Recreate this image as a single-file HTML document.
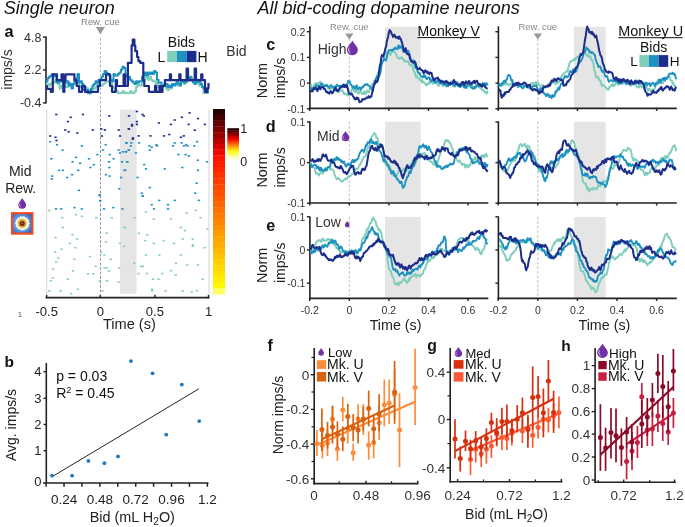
<!DOCTYPE html>
<html><head><meta charset="utf-8"><style>
html,body{margin:0;padding:0;background:#fff;}
body{width:685px;height:527px;overflow:hidden;}
svg{display:block;font-family:"Liberation Sans", sans-serif;will-change:transform;}
</style></head><body>
<svg width="685" height="527" viewBox="0 0 685 527">
<rect width="685" height="527" fill="#fff"/>
<text x="3.8" y="13.6" font-size="18" text-anchor="start" fill="#111" font-weight="normal" font-style="italic" >Single neuron</text>
<text x="257.5" y="13.6" font-size="18" text-anchor="start" fill="#111" font-weight="normal" font-style="italic" >All bid-coding dopamine neurons</text>
<text x="4.6" y="36.9" font-size="16.3" text-anchor="start" fill="#111" font-weight="bold" font-style="normal" >a</text>
<line x1="46" y1="36.5" x2="46" y2="103.5" stroke="#222" stroke-width="1.6" />
<line x1="43" y1="37.1" x2="46" y2="37.1" stroke="#222" stroke-width="1.4" />
<text x="41.5" y="41.5" font-size="12.5" text-anchor="end" fill="#333" font-weight="normal" font-style="normal" >4.8</text>
<line x1="43" y1="69.9" x2="46" y2="69.9" stroke="#222" stroke-width="1.4" />
<text x="41.5" y="74.30000000000001" font-size="12.5" text-anchor="end" fill="#333" font-weight="normal" font-style="normal" >2.2</text>
<line x1="43" y1="102.9" x2="46" y2="102.9" stroke="#222" stroke-width="1.4" />
<text x="41.5" y="107.30000000000001" font-size="12.5" text-anchor="end" fill="#333" font-weight="normal" font-style="normal" >-0.4</text>
<text transform="translate(12,69.5) rotate(-90)" font-size="14" text-anchor="middle" fill="#333">imps/s</text>
<text x="100.4" y="24.8" font-size="9.4" text-anchor="middle" fill="#808080" font-weight="normal" font-style="normal" >Rew. cue</text>
<path d="M95.90,27.00 L104.90,27.00 L100.40,34.40 Z" fill="#999"/>
<line x1="100.5" y1="38" x2="100.5" y2="296" stroke="#999" stroke-width="0.8" stroke-dasharray="2.5,2"/>
<text x="167.8" y="47.4" font-size="14" text-anchor="start" fill="#111" font-weight="normal" font-style="normal" >Bids</text>
<text x="157.6" y="61.9" font-size="14" text-anchor="start" fill="#111" font-weight="normal" font-style="normal" >L</text>
<rect x="167.2" y="50.9" width="9.8" height="11.2" fill="#7fcdbb" />
<rect x="177.0" y="50.9" width="9.8" height="11.2" fill="#1d91c0" />
<rect x="186.8" y="50.9" width="9.6" height="11.2" fill="#1c2d8a" />
<text x="197.6" y="61.9" font-size="14" text-anchor="start" fill="#111" font-weight="normal" font-style="normal" >H</text>
<text x="226.3" y="56.4" font-size="14" text-anchor="start" fill="#333" font-weight="normal" font-style="normal" >Bid</text>
<polyline points="46.0,84.1 47.5,84.1 47.5,84.1 49.0,84.1 49.0,85.5 50.5,85.5 50.5,84.1 52.0,84.1 52.0,82.6 53.5,82.6 53.5,82.6 55.0,82.6 55.0,79.8 56.5,79.8 56.5,81.2 58.0,81.2 58.0,84.1 59.5,84.1 59.5,88.5 61.0,88.5 61.0,85.5 62.5,85.5 62.5,85.5 64.0,85.5 64.0,84.1 65.5,84.1 65.5,87.0 67.0,87.0 67.0,87.0 68.5,87.0 68.5,82.6 70.0,82.6 70.0,85.5 71.5,85.5 71.5,85.5 73.0,85.5 73.0,84.1 74.5,84.1 74.5,82.6 76.0,82.6 76.0,81.2 77.5,81.2 77.5,82.6 79.0,82.6 79.0,85.5 80.5,85.5 80.5,87.0 82.0,87.0 82.0,88.5 83.5,88.5 83.5,88.5 85.0,88.5 85.0,87.0 86.5,87.0 86.5,88.5 88.0,88.5 88.0,89.9 89.5,89.9 89.5,91.3 91.0,91.3 91.0,89.9 92.5,89.9 92.5,88.5 94.0,88.5 94.0,88.5 95.5,88.5 95.5,87.0 97.0,87.0 97.0,84.1 98.5,84.1 98.5,82.6 100.0,82.6 100.0,85.5 101.5,85.5 101.5,85.5 103.0,85.5 103.0,84.1 104.5,84.1 104.5,82.6 106.0,82.6 106.0,81.2 107.5,81.2 107.5,81.2 109.0,81.2 109.0,82.6 110.5,82.6 110.5,81.2 112.0,81.2 112.0,87.0 113.5,87.0 113.5,88.5 115.0,88.5 115.0,91.3 116.5,91.3 116.5,91.3 118.0,91.3 118.0,93.2 119.5,93.2 119.5,93.2 121.0,93.2 121.0,92.8 122.5,92.8 122.5,91.3 124.0,91.3 124.0,93.2 125.5,93.2 125.5,92.8 127.0,92.8 127.0,93.2 128.5,93.2 128.5,93.2 130.0,93.2 130.0,91.3 131.5,91.3 131.5,92.8 133.0,92.8 133.0,93.2 134.5,93.2 134.5,91.3 136.0,91.3 136.0,87.0 137.5,87.0 137.5,84.1 139.0,84.1 139.0,85.5 140.5,85.5 140.5,85.5 142.0,85.5 142.0,81.2 143.5,81.2 143.5,79.8 145.0,79.8 145.0,78.3 146.5,78.3 146.5,76.8 148.0,76.8 148.0,79.8 149.5,79.8 149.5,76.8 151.0,76.8 151.0,79.8 152.5,79.8 152.5,81.2 154.0,81.2 154.0,81.2 155.5,81.2 155.5,84.1 157.0,84.1 157.0,82.6 158.5,82.6 158.5,87.0 160.0,87.0 160.0,87.0 161.5,87.0 161.5,87.0 163.0,87.0 163.0,85.5 164.5,85.5 164.5,85.5 166.0,85.5 166.0,88.5 167.5,88.5 167.5,89.9 169.0,89.9 169.0,87.0 170.5,87.0 170.5,88.5 172.0,88.5 172.0,84.1 173.5,84.1 173.5,84.1 175.0,84.1 175.0,85.5 176.5,85.5 176.5,85.5 178.0,85.5 178.0,82.6 179.5,82.6 179.5,85.5 181.0,85.5 181.0,82.6 182.5,82.6 182.5,81.2 184.0,81.2 184.0,84.1 185.5,84.1 185.5,82.6 187.0,82.6 187.0,81.2 188.5,81.2 188.5,78.3 190.0,78.3 190.0,78.3 191.5,78.3 191.5,81.2 193.0,81.2 193.0,79.8 194.5,79.8 194.5,81.2 196.0,81.2 196.0,81.2 197.5,81.2 197.5,82.6 199.0,82.6 199.0,85.5 200.5,85.5 200.5,85.5 202.0,85.5 202.0,87.0 203.5,87.0 203.5,93.2 205.0,93.2 205.0,92.8 206.5,92.8 206.5,89.9 208.0,89.9 208.0,91.3" fill="none" stroke="#7fcdbb" stroke-width="2.0" stroke-linejoin="round" stroke-linejoin="miter"/>
<polyline points="46.0,81.2 47.5,81.2 47.5,78.3 49.0,78.3 49.0,76.8 50.5,76.8 50.5,75.4 52.0,75.4 52.0,74.0 53.5,74.0 53.5,75.4 55.0,75.4 55.0,76.8 56.5,76.8 56.5,82.6 58.0,82.6 58.0,82.6 59.5,82.6 59.5,81.2 61.0,81.2 61.0,81.2 62.5,81.2 62.5,82.6 64.0,82.6 64.0,81.2 65.5,81.2 65.5,82.6 67.0,82.6 67.0,81.2 68.5,81.2 68.5,85.5 70.0,85.5 70.0,84.1 71.5,84.1 71.5,88.5 73.0,88.5 73.0,84.1 74.5,84.1 74.5,81.2 76.0,81.2 76.0,78.3 77.5,78.3 77.5,74.0 79.0,74.0 79.0,82.6 80.5,82.6 80.5,81.2 82.0,81.2 82.0,84.1 83.5,84.1 83.5,89.9 85.0,89.9 85.0,91.3 86.5,91.3 86.5,89.9 88.0,89.9 88.0,93.2 89.5,93.2 89.5,93.2 91.0,93.2 91.0,88.5 92.5,88.5 92.5,85.5 94.0,85.5 94.0,84.1 95.5,84.1 95.5,81.2 97.0,81.2 97.0,82.6 98.5,82.6 98.5,79.8 100.0,79.8 100.0,79.8 101.5,79.8 101.5,76.8 103.0,76.8 103.0,74.0 104.5,74.0 104.5,71.0 106.0,71.0 106.0,72.5 107.5,72.5 107.5,74.0 109.0,74.0 109.0,75.4 110.5,75.4 110.5,79.8 112.0,79.8 112.0,81.2 113.5,81.2 113.5,74.0 115.0,74.0 115.0,75.4 116.5,75.4 116.5,75.4 118.0,75.4 118.0,74.0 119.5,74.0 119.5,72.5 121.0,72.5 121.0,69.6 122.5,69.6 122.5,66.7 124.0,66.7 124.0,68.1 125.5,68.1 125.5,75.4 127.0,75.4 127.0,76.8 128.5,76.8 128.5,76.8 130.0,76.8 130.0,79.8 131.5,79.8 131.5,81.2 133.0,81.2 133.0,82.6 134.5,82.6 134.5,84.1 136.0,84.1 136.0,81.2 137.5,81.2 137.5,82.6 139.0,82.6 139.0,81.2 140.5,81.2 140.5,81.2 142.0,81.2 142.0,76.8 143.5,76.8 143.5,75.4 145.0,75.4 145.0,72.5 146.5,72.5 146.5,75.4 148.0,75.4 148.0,72.5 149.5,72.5 149.5,74.0 151.0,74.0 151.0,72.5 152.5,72.5 152.5,74.0 154.0,74.0 154.0,71.0 155.5,71.0 155.5,72.5 157.0,72.5 157.0,79.8 158.5,79.8 158.5,82.6 160.0,82.6 160.0,82.6 161.5,82.6 161.5,85.5 163.0,85.5 163.0,85.5 164.5,85.5 164.5,84.1 166.0,84.1 166.0,84.1 167.5,84.1 167.5,87.0 169.0,87.0 169.0,85.5 170.5,85.5 170.5,87.0 172.0,87.0 172.0,84.1 173.5,84.1 173.5,85.5 175.0,85.5 175.0,84.1 176.5,84.1 176.5,81.2 178.0,81.2 178.0,84.1 179.5,84.1 179.5,85.5 181.0,85.5 181.0,81.2 182.5,81.2 182.5,81.2 184.0,81.2 184.0,82.6 185.5,82.6 185.5,81.2 187.0,81.2 187.0,79.8 188.5,79.8 188.5,78.3 190.0,78.3 190.0,76.8 191.5,76.8 191.5,79.8 193.0,79.8 193.0,82.6 194.5,82.6 194.5,84.1 196.0,84.1 196.0,82.6 197.5,82.6 197.5,79.8 199.0,79.8 199.0,81.2 200.5,81.2 200.5,84.1 202.0,84.1 202.0,87.0 203.5,87.0 203.5,88.5 205.0,88.5 205.0,89.9 206.5,89.9 206.5,92.8 208.0,92.8 208.0,88.5" fill="none" stroke="#1d91c0" stroke-width="2.0" stroke-linejoin="round" stroke-linejoin="miter"/>
<polyline points="45.8,86.0 47.0,86.0 47.0,88.9 50.8,88.9 50.8,91.8 52.8,91.8 52.8,74.4 55.7,74.4 55.7,74.4 57.0,74.4 57.0,80.2 60.4,80.2 60.4,80.2 61.5,80.2 61.5,74.4 63.3,74.4 63.3,91.8 64.4,91.8 64.4,80.2 65.5,80.2 65.5,74.4 72.6,74.4 72.6,74.4 74.4,74.4 74.4,80.2 76.7,80.2 76.7,86.0 79.0,86.0 79.0,91.8 82.0,91.8 82.0,86.0 83.7,86.0 83.7,86.0 85.0,86.0 85.0,91.8 96.6,91.8 96.6,91.8 98.0,91.8 98.0,86.0 100.0,86.0 100.0,80.2 103.6,80.2 103.6,80.2 106.0,80.2 106.0,74.4 107.0,74.4 107.0,74.4 110.0,74.4 110.0,86.0 112.0,86.0 112.0,91.8 114.0,91.8 114.0,91.8 115.8,91.8 115.8,80.2 117.0,80.2 117.0,86.0 123.6,86.0 123.6,74.4 125.2,74.4 125.2,86.0 127.9,86.0 127.9,62.8 131.6,62.8 131.6,45.4 132.8,45.4 132.8,39.6 134.4,39.6 134.4,45.4 135.3,45.4 135.3,51.2 137.1,51.2 137.1,57.0 138.4,57.0 138.4,61.1 140.2,61.1 140.2,62.8 143.3,62.8 143.3,80.2 144.3,80.2 144.3,86.0 148.9,86.0 148.9,91.8 155.0,91.8 155.0,86.0 156.3,86.0 156.3,91.8 159.5,91.8 159.5,86.0 160.8,86.0 160.8,91.8 162.5,91.8 162.5,86.0 164.9,86.0 164.9,80.2 168.4,80.2 168.4,80.2 169.9,80.2 169.9,74.4 171.0,74.4 171.0,80.2 177.2,80.2 177.2,80.2 179.3,80.2 179.3,74.4 180.5,74.4 180.5,80.2 183.7,80.2 183.7,80.2 186.6,80.2 186.6,68.6 188.0,68.6 188.0,80.2 192.5,80.2 192.5,80.2 194.7,80.2 194.7,68.6 196.0,68.6 196.0,80.2 199.8,80.2 199.8,80.2 201.2,80.2 201.2,74.4 202.4,74.4 202.4,80.2 203.4,80.2 203.4,80.2 205.0,80.2 205.0,91.8 207.0,91.8 207.0,88.3 208.5,88.3 208.5,83.1" fill="none" stroke="#1c2d8a" stroke-width="2.2" stroke-linejoin="round" stroke-linejoin="miter"/>
<rect x="120" y="109.6" width="16.6" height="184.1" fill="#e5e5e5" />
<line x1="46.6" y1="109.5" x2="46.6" y2="293.8" stroke="#dcdcdc" stroke-width="1.2" />
<line x1="209" y1="109.5" x2="209" y2="293.8" stroke="#dcdcdc" stroke-width="1.2" />
<line x1="100.5" y1="109.6" x2="100.5" y2="294" stroke="#888" stroke-width="0.8" stroke-dasharray="2.5,2"/>
<rect x="48.15" y="209.7" width="2.3" height="1.6" fill="#86cfbd" />
<rect x="74.85" y="213.9" width="2.3" height="1.6" fill="#86cfbd" />
<rect x="80.65" y="215.5" width="2.3" height="1.6" fill="#86cfbd" />
<rect x="61.25" y="216.9" width="2.3" height="1.6" fill="#86cfbd" />
<rect x="95.15" y="216.9" width="2.3" height="1.6" fill="#86cfbd" />
<rect x="110.65" y="216.9" width="2.3" height="1.6" fill="#86cfbd" />
<rect x="61.65" y="226.7" width="2.3" height="1.6" fill="#86cfbd" />
<rect x="123.25" y="226.7" width="2.3" height="1.6" fill="#86cfbd" />
<rect x="105.45" y="232.3" width="2.3" height="1.6" fill="#86cfbd" />
<rect x="71.35" y="233.9" width="2.3" height="1.6" fill="#86cfbd" />
<rect x="54.45" y="236.8" width="2.3" height="1.6" fill="#86cfbd" />
<rect x="75.85" y="238.3" width="2.3" height="1.6" fill="#86cfbd" />
<rect x="104.85" y="241.1" width="2.3" height="1.6" fill="#86cfbd" />
<rect x="68.65" y="242.6" width="2.3" height="1.6" fill="#86cfbd" />
<rect x="118.75" y="242.6" width="2.3" height="1.6" fill="#86cfbd" />
<rect x="122.85" y="245.5" width="2.3" height="1.6" fill="#86cfbd" />
<rect x="74.25" y="246.9" width="2.3" height="1.6" fill="#86cfbd" />
<rect x="60.35" y="248.4" width="2.3" height="1.6" fill="#86cfbd" />
<rect x="53.95" y="251.3" width="2.3" height="1.6" fill="#86cfbd" />
<rect x="99.95" y="251.3" width="2.3" height="1.6" fill="#86cfbd" />
<rect x="103.25" y="254.2" width="2.3" height="1.6" fill="#86cfbd" />
<rect x="88.75" y="255.8" width="2.3" height="1.6" fill="#86cfbd" />
<rect x="57.05" y="257.1" width="2.3" height="1.6" fill="#86cfbd" />
<rect x="73.25" y="258.5" width="2.3" height="1.6" fill="#86cfbd" />
<rect x="109.65" y="258.5" width="2.3" height="1.6" fill="#86cfbd" />
<rect x="55.05" y="261.4" width="2.3" height="1.6" fill="#86cfbd" />
<rect x="94.55" y="265.4" width="2.3" height="1.6" fill="#86cfbd" />
<rect x="103.45" y="267.2" width="2.3" height="1.6" fill="#86cfbd" />
<rect x="105.45" y="267.2" width="2.3" height="1.6" fill="#86cfbd" />
<rect x="118.05" y="267.2" width="2.3" height="1.6" fill="#86cfbd" />
<rect x="51.95" y="268.4" width="2.3" height="1.6" fill="#86cfbd" />
<rect x="71.95" y="270.1" width="2.3" height="1.6" fill="#86cfbd" />
<rect x="107.75" y="270.1" width="2.3" height="1.6" fill="#86cfbd" />
<rect x="86.85" y="273.0" width="2.3" height="1.6" fill="#86cfbd" />
<rect x="92.25" y="273.0" width="2.3" height="1.6" fill="#86cfbd" />
<rect x="51.55" y="277.1" width="2.3" height="1.6" fill="#86cfbd" />
<rect x="66.65" y="278.4" width="2.3" height="1.6" fill="#86cfbd" />
<rect x="49.65" y="280.0" width="2.3" height="1.6" fill="#86cfbd" />
<rect x="98.65" y="280.0" width="2.3" height="1.6" fill="#86cfbd" />
<rect x="105.85" y="280.0" width="2.3" height="1.6" fill="#86cfbd" />
<rect x="117.45" y="281.3" width="2.3" height="1.6" fill="#86cfbd" />
<rect x="76.75" y="288.5" width="2.3" height="1.6" fill="#86cfbd" />
<rect x="48.15" y="290.0" width="2.3" height="1.6" fill="#86cfbd" />
<rect x="59.35" y="290.0" width="2.3" height="1.6" fill="#86cfbd" />
<rect x="101.35" y="290.0" width="2.3" height="1.6" fill="#86cfbd" />
<rect x="69.95" y="292.9" width="2.3" height="1.6" fill="#86cfbd" />
<rect x="144.75" y="211.0" width="2.3" height="1.6" fill="#86cfbd" />
<rect x="185.45" y="212.4" width="2.3" height="1.6" fill="#86cfbd" />
<rect x="194.55" y="209.5" width="2.3" height="1.6" fill="#86cfbd" />
<rect x="133.55" y="216.9" width="2.3" height="1.6" fill="#86cfbd" />
<rect x="152.55" y="218.2" width="2.3" height="1.6" fill="#86cfbd" />
<rect x="169.75" y="218.2" width="2.3" height="1.6" fill="#86cfbd" />
<rect x="199.35" y="216.9" width="2.3" height="1.6" fill="#86cfbd" />
<rect x="179.65" y="226.7" width="2.3" height="1.6" fill="#86cfbd" />
<rect x="183.85" y="229.8" width="2.3" height="1.6" fill="#86cfbd" />
<rect x="206.15" y="228.3" width="2.3" height="1.6" fill="#86cfbd" />
<rect x="123.85" y="226.7" width="2.3" height="1.6" fill="#86cfbd" />
<rect x="137.75" y="232.5" width="2.3" height="1.6" fill="#86cfbd" />
<rect x="146.15" y="234.1" width="2.3" height="1.6" fill="#86cfbd" />
<rect x="144.15" y="239.9" width="2.3" height="1.6" fill="#86cfbd" />
<rect x="162.55" y="239.9" width="2.3" height="1.6" fill="#86cfbd" />
<rect x="152.65" y="242.6" width="2.3" height="1.6" fill="#86cfbd" />
<rect x="172.85" y="242.6" width="2.3" height="1.6" fill="#86cfbd" />
<rect x="181.55" y="238.3" width="2.3" height="1.6" fill="#86cfbd" />
<rect x="191.65" y="238.3" width="2.3" height="1.6" fill="#86cfbd" />
<rect x="191.65" y="244.2" width="2.3" height="1.6" fill="#86cfbd" />
<rect x="191.65" y="245.5" width="2.3" height="1.6" fill="#86cfbd" />
<rect x="203.45" y="246.9" width="2.3" height="1.6" fill="#86cfbd" />
<rect x="144.75" y="254.2" width="2.3" height="1.6" fill="#86cfbd" />
<rect x="158.15" y="254.2" width="2.3" height="1.6" fill="#86cfbd" />
<rect x="179.65" y="254.2" width="2.3" height="1.6" fill="#86cfbd" />
<rect x="133.15" y="262.5" width="2.3" height="1.6" fill="#86cfbd" />
<rect x="139.75" y="265.6" width="2.3" height="1.6" fill="#86cfbd" />
<rect x="141.65" y="265.6" width="2.3" height="1.6" fill="#86cfbd" />
<rect x="174.75" y="262.5" width="2.3" height="1.6" fill="#86cfbd" />
<rect x="186.15" y="264.1" width="2.3" height="1.6" fill="#86cfbd" />
<rect x="196.85" y="264.1" width="2.3" height="1.6" fill="#86cfbd" />
<rect x="137.45" y="272.8" width="2.3" height="1.6" fill="#86cfbd" />
<rect x="145.75" y="272.8" width="2.3" height="1.6" fill="#86cfbd" />
<rect x="161.25" y="272.8" width="2.3" height="1.6" fill="#86cfbd" />
<rect x="169.95" y="269.9" width="2.3" height="1.6" fill="#86cfbd" />
<rect x="174.55" y="274.2" width="2.3" height="1.6" fill="#86cfbd" />
<rect x="151.95" y="278.4" width="2.3" height="1.6" fill="#86cfbd" />
<rect x="157.35" y="278.4" width="2.3" height="1.6" fill="#86cfbd" />
<rect x="201.45" y="278.4" width="2.3" height="1.6" fill="#86cfbd" />
<rect x="150.95" y="288.5" width="2.3" height="1.6" fill="#86cfbd" />
<rect x="150.95" y="290.0" width="2.3" height="1.6" fill="#86cfbd" />
<rect x="164.55" y="290.0" width="2.3" height="1.6" fill="#86cfbd" />
<rect x="181.55" y="290.0" width="2.3" height="1.6" fill="#86cfbd" />
<rect x="190.65" y="291.4" width="2.3" height="1.6" fill="#86cfbd" />
<rect x="195.85" y="290.0" width="2.3" height="1.6" fill="#86cfbd" />
<rect x="49.05" y="140.9" width="2.3" height="1.6" fill="#1d91c0" />
<rect x="55.85" y="143.9" width="2.3" height="1.6" fill="#1d91c0" />
<rect x="80.65" y="145.1" width="2.3" height="1.6" fill="#1d91c0" />
<rect x="104.55" y="143.9" width="2.3" height="1.6" fill="#1d91c0" />
<rect x="125.05" y="142.1" width="2.3" height="1.6" fill="#1d91c0" />
<rect x="61.45" y="149.3" width="2.3" height="1.6" fill="#1d91c0" />
<rect x="101.85" y="149.3" width="2.3" height="1.6" fill="#1d91c0" />
<rect x="117.55" y="149.3" width="2.3" height="1.6" fill="#1d91c0" />
<rect x="118.85" y="152.2" width="2.3" height="1.6" fill="#1d91c0" />
<rect x="121.85" y="151.0" width="2.3" height="1.6" fill="#1d91c0" />
<rect x="124.65" y="151.0" width="2.3" height="1.6" fill="#1d91c0" />
<rect x="127.85" y="149.3" width="2.3" height="1.6" fill="#1d91c0" />
<rect x="96.25" y="153.8" width="2.3" height="1.6" fill="#1d91c0" />
<rect x="108.65" y="153.8" width="2.3" height="1.6" fill="#1d91c0" />
<rect x="50.15" y="158.0" width="2.3" height="1.6" fill="#1d91c0" />
<rect x="74.75" y="156.6" width="2.3" height="1.6" fill="#1d91c0" />
<rect x="87.85" y="158.0" width="2.3" height="1.6" fill="#1d91c0" />
<rect x="112.45" y="158.0" width="2.3" height="1.6" fill="#1d91c0" />
<rect x="71.45" y="161.0" width="2.3" height="1.6" fill="#1d91c0" />
<rect x="78.95" y="162.4" width="2.3" height="1.6" fill="#1d91c0" />
<rect x="92.75" y="163.9" width="2.3" height="1.6" fill="#1d91c0" />
<rect x="107.75" y="161.0" width="2.3" height="1.6" fill="#1d91c0" />
<rect x="120.85" y="161.0" width="2.3" height="1.6" fill="#1d91c0" />
<rect x="126.05" y="161.0" width="2.3" height="1.6" fill="#1d91c0" />
<rect x="89.25" y="166.7" width="2.3" height="1.6" fill="#1d91c0" />
<rect x="108.25" y="166.7" width="2.3" height="1.6" fill="#1d91c0" />
<rect x="57.85" y="169.5" width="2.3" height="1.6" fill="#1d91c0" />
<rect x="61.65" y="169.5" width="2.3" height="1.6" fill="#1d91c0" />
<rect x="77.05" y="169.5" width="2.3" height="1.6" fill="#1d91c0" />
<rect x="123.25" y="169.5" width="2.3" height="1.6" fill="#1d91c0" />
<rect x="70.95" y="173.9" width="2.3" height="1.6" fill="#1d91c0" />
<rect x="104.75" y="173.9" width="2.3" height="1.6" fill="#1d91c0" />
<rect x="51.15" y="175.3" width="2.3" height="1.6" fill="#1d91c0" />
<rect x="66.05" y="176.7" width="2.3" height="1.6" fill="#1d91c0" />
<rect x="108.45" y="175.3" width="2.3" height="1.6" fill="#1d91c0" />
<rect x="119.95" y="176.7" width="2.3" height="1.6" fill="#1d91c0" />
<rect x="50.65" y="178.1" width="2.3" height="1.6" fill="#1d91c0" />
<rect x="77.75" y="189.6" width="2.3" height="1.6" fill="#1d91c0" />
<rect x="118.05" y="188.0" width="2.3" height="1.6" fill="#1d91c0" />
<rect x="98.45" y="194.0" width="2.3" height="1.6" fill="#1d91c0" />
<rect x="125.55" y="142.1" width="2.3" height="1.6" fill="#1d91c0" />
<rect x="130.15" y="142.1" width="2.3" height="1.6" fill="#1d91c0" />
<rect x="137.85" y="142.1" width="2.3" height="1.6" fill="#1d91c0" />
<rect x="129.65" y="145.1" width="2.3" height="1.6" fill="#1d91c0" />
<rect x="148.25" y="145.1" width="2.3" height="1.6" fill="#1d91c0" />
<rect x="150.55" y="146.5" width="2.3" height="1.6" fill="#1d91c0" />
<rect x="155.25" y="143.9" width="2.3" height="1.6" fill="#1d91c0" />
<rect x="155.85" y="145.1" width="2.3" height="1.6" fill="#1d91c0" />
<rect x="171.85" y="145.1" width="2.3" height="1.6" fill="#1d91c0" />
<rect x="173.55" y="142.1" width="2.3" height="1.6" fill="#1d91c0" />
<rect x="180.55" y="142.1" width="2.3" height="1.6" fill="#1d91c0" />
<rect x="182.85" y="145.1" width="2.3" height="1.6" fill="#1d91c0" />
<rect x="184.95" y="143.9" width="2.3" height="1.6" fill="#1d91c0" />
<rect x="186.35" y="145.1" width="2.3" height="1.6" fill="#1d91c0" />
<rect x="193.15" y="145.1" width="2.3" height="1.6" fill="#1d91c0" />
<rect x="195.95" y="140.9" width="2.3" height="1.6" fill="#1d91c0" />
<rect x="125.05" y="150.8" width="2.3" height="1.6" fill="#1d91c0" />
<rect x="127.55" y="149.4" width="2.3" height="1.6" fill="#1d91c0" />
<rect x="134.65" y="152.2" width="2.3" height="1.6" fill="#1d91c0" />
<rect x="148.65" y="149.4" width="2.3" height="1.6" fill="#1d91c0" />
<rect x="177.25" y="153.8" width="2.3" height="1.6" fill="#1d91c0" />
<rect x="184.45" y="153.8" width="2.3" height="1.6" fill="#1d91c0" />
<rect x="187.75" y="155.2" width="2.3" height="1.6" fill="#1d91c0" />
<rect x="126.15" y="161.0" width="2.3" height="1.6" fill="#1d91c0" />
<rect x="196.65" y="159.4" width="2.3" height="1.6" fill="#1d91c0" />
<rect x="205.85" y="161.0" width="2.3" height="1.6" fill="#1d91c0" />
<rect x="143.05" y="163.8" width="2.3" height="1.6" fill="#1d91c0" />
<rect x="144.85" y="168.1" width="2.3" height="1.6" fill="#1d91c0" />
<rect x="163.65" y="168.1" width="2.3" height="1.6" fill="#1d91c0" />
<rect x="181.15" y="166.7" width="2.3" height="1.6" fill="#1d91c0" />
<rect x="196.85" y="169.5" width="2.3" height="1.6" fill="#1d91c0" />
<rect x="124.15" y="169.5" width="2.3" height="1.6" fill="#1d91c0" />
<rect x="136.45" y="176.7" width="2.3" height="1.6" fill="#1d91c0" />
<rect x="195.45" y="182.4" width="2.3" height="1.6" fill="#1d91c0" />
<rect x="148.65" y="186.8" width="2.3" height="1.6" fill="#1d91c0" />
<rect x="140.75" y="192.4" width="2.3" height="1.6" fill="#1d91c0" />
<rect x="194.05" y="192.4" width="2.3" height="1.6" fill="#1d91c0" />
<rect x="141.65" y="195.3" width="2.3" height="1.6" fill="#1d91c0" />
<rect x="54.85" y="208.1" width="2.3" height="1.6" fill="#1d91c0" />
<rect x="59.95" y="208.1" width="2.3" height="1.6" fill="#1d91c0" />
<rect x="73.25" y="206.8" width="2.3" height="1.6" fill="#1d91c0" />
<rect x="80.65" y="208.1" width="2.3" height="1.6" fill="#1d91c0" />
<rect x="102.85" y="208.1" width="2.3" height="1.6" fill="#1d91c0" />
<rect x="112.15" y="206.8" width="2.3" height="1.6" fill="#1d91c0" />
<rect x="121.25" y="208.1" width="2.3" height="1.6" fill="#1d91c0" />
<rect x="99.05" y="200.0" width="2.3" height="1.6" fill="#1d91c0" />
<rect x="98.65" y="194.8" width="2.3" height="1.6" fill="#1d91c0" />
<rect x="141.65" y="195.2" width="2.3" height="1.6" fill="#1d91c0" />
<rect x="158.15" y="199.6" width="2.3" height="1.6" fill="#1d91c0" />
<rect x="173.65" y="199.6" width="2.3" height="1.6" fill="#1d91c0" />
<rect x="197.65" y="199.6" width="2.3" height="1.6" fill="#1d91c0" />
<rect x="150.55" y="203.9" width="2.3" height="1.6" fill="#1d91c0" />
<rect x="166.85" y="203.9" width="2.3" height="1.6" fill="#1d91c0" />
<rect x="152.85" y="208.1" width="2.3" height="1.6" fill="#1d91c0" />
<rect x="166.85" y="208.1" width="2.3" height="1.6" fill="#1d91c0" />
<rect x="55.15" y="113.7" width="2.3" height="1.6" fill="#1c2d8a" />
<rect x="69.55" y="116.5" width="2.3" height="1.6" fill="#1c2d8a" />
<rect x="81.75" y="113.7" width="2.3" height="1.6" fill="#1c2d8a" />
<rect x="108.05" y="115.1" width="2.3" height="1.6" fill="#1c2d8a" />
<rect x="127.85" y="115.1" width="2.3" height="1.6" fill="#1c2d8a" />
<rect x="66.75" y="120.8" width="2.3" height="1.6" fill="#1c2d8a" />
<rect x="64.05" y="129.2" width="2.3" height="1.6" fill="#1c2d8a" />
<rect x="67.55" y="130.9" width="2.3" height="1.6" fill="#1c2d8a" />
<rect x="76.15" y="132.2" width="2.3" height="1.6" fill="#1c2d8a" />
<rect x="91.65" y="129.2" width="2.3" height="1.6" fill="#1c2d8a" />
<rect x="100.25" y="128.1" width="2.3" height="1.6" fill="#1c2d8a" />
<rect x="103.75" y="129.2" width="2.3" height="1.6" fill="#1c2d8a" />
<rect x="117.55" y="129.2" width="2.3" height="1.6" fill="#1c2d8a" />
<rect x="127.85" y="128.1" width="2.3" height="1.6" fill="#1c2d8a" />
<rect x="49.05" y="135.2" width="2.3" height="1.6" fill="#1c2d8a" />
<rect x="54.35" y="136.5" width="2.3" height="1.6" fill="#1c2d8a" />
<rect x="55.35" y="139.7" width="2.3" height="1.6" fill="#1c2d8a" />
<rect x="100.75" y="135.2" width="2.3" height="1.6" fill="#1c2d8a" />
<rect x="118.85" y="135.2" width="2.3" height="1.6" fill="#1c2d8a" />
<rect x="135.75" y="110.7" width="2.3" height="1.6" fill="#1c2d8a" />
<rect x="141.35" y="113.7" width="2.3" height="1.6" fill="#1c2d8a" />
<rect x="142.75" y="115.1" width="2.3" height="1.6" fill="#1c2d8a" />
<rect x="188.45" y="112.1" width="2.3" height="1.6" fill="#1c2d8a" />
<rect x="180.75" y="116.5" width="2.3" height="1.6" fill="#1c2d8a" />
<rect x="196.85" y="117.8" width="2.3" height="1.6" fill="#1c2d8a" />
<rect x="173.55" y="119.2" width="2.3" height="1.6" fill="#1c2d8a" />
<rect x="135.75" y="120.8" width="2.3" height="1.6" fill="#1c2d8a" />
<rect x="130.85" y="123.8" width="2.3" height="1.6" fill="#1c2d8a" />
<rect x="130.85" y="125.2" width="2.3" height="1.6" fill="#1c2d8a" />
<rect x="135.75" y="123.6" width="2.3" height="1.6" fill="#1c2d8a" />
<rect x="157.75" y="122.2" width="2.3" height="1.6" fill="#1c2d8a" />
<rect x="169.75" y="123.6" width="2.3" height="1.6" fill="#1c2d8a" />
<rect x="187.55" y="123.6" width="2.3" height="1.6" fill="#1c2d8a" />
<rect x="203.65" y="123.6" width="2.3" height="1.6" fill="#1c2d8a" />
<rect x="127.65" y="128.0" width="2.3" height="1.6" fill="#1c2d8a" />
<rect x="193.65" y="129.4" width="2.3" height="1.6" fill="#1c2d8a" />
<rect x="131.85" y="137.2" width="2.3" height="1.6" fill="#1c2d8a" />
<rect x="131.55" y="138.3" width="2.3" height="1.6" fill="#1c2d8a" />
<rect x="137.45" y="135.1" width="2.3" height="1.6" fill="#1c2d8a" />
<rect x="149.35" y="135.1" width="2.3" height="1.6" fill="#1c2d8a" />
<rect x="162.75" y="135.1" width="2.3" height="1.6" fill="#1c2d8a" />
<rect x="168.15" y="133.7" width="2.3" height="1.6" fill="#1c2d8a" />
<rect x="179.85" y="136.5" width="2.3" height="1.6" fill="#1c2d8a" />
<rect x="182.65" y="135.1" width="2.3" height="1.6" fill="#1c2d8a" />
<line x1="45.5" y1="297.6" x2="209.5" y2="297.6" stroke="#222" stroke-width="1.8" />
<line x1="46.7" y1="297.6" x2="46.7" y2="294.8" stroke="#222" stroke-width="1.4" />
<text x="46.7" y="316" font-size="13" text-anchor="middle" fill="#222" font-weight="normal" font-style="normal" >-0.5</text>
<line x1="100.3" y1="297.6" x2="100.3" y2="294.8" stroke="#222" stroke-width="1.4" />
<text x="100.3" y="316" font-size="13" text-anchor="middle" fill="#222" font-weight="normal" font-style="normal" >0</text>
<line x1="154.9" y1="297.6" x2="154.9" y2="294.8" stroke="#222" stroke-width="1.4" />
<text x="154.9" y="316" font-size="13" text-anchor="middle" fill="#222" font-weight="normal" font-style="normal" >0.5</text>
<line x1="208.5" y1="297.6" x2="208.5" y2="294.8" stroke="#222" stroke-width="1.4" />
<text x="208.5" y="316" font-size="13" text-anchor="middle" fill="#222" font-weight="normal" font-style="normal" >1</text>
<text x="129.4" y="329.3" font-size="14.6" text-anchor="middle" fill="#222" font-weight="normal" font-style="normal" >Time (s)</text>
<text x="20" y="316.5" font-size="8" text-anchor="middle" fill="#555" font-weight="normal" font-style="normal" >1</text>
<rect x="213" y="109.0" width="12" height="6.09" fill="#270000" />
<rect x="213" y="114.79" width="12" height="6.09" fill="#440000" />
<rect x="213" y="120.58" width="12" height="6.09" fill="#600000" />
<rect x="213" y="126.36" width="12" height="6.09" fill="#7d0000" />
<rect x="213" y="132.15" width="12" height="6.09" fill="#990000" />
<rect x="213" y="137.94" width="12" height="6.09" fill="#b60000" />
<rect x="213" y="143.72" width="12" height="6.09" fill="#d20000" />
<rect x="213" y="149.51" width="12" height="6.09" fill="#ee0800" />
<rect x="213" y="155.3" width="12" height="6.09" fill="#ff1200" />
<rect x="213" y="161.09" width="12" height="6.09" fill="#ff1d00" />
<rect x="213" y="166.88" width="12" height="6.09" fill="#ff2700" />
<rect x="213" y="172.66" width="12" height="6.09" fill="#ff3200" />
<rect x="213" y="178.45" width="12" height="6.09" fill="#ff3c00" />
<rect x="213" y="184.24" width="12" height="6.09" fill="#ff4700" />
<rect x="213" y="190.02" width="12" height="6.09" fill="#ff5100" />
<rect x="213" y="195.81" width="12" height="6.09" fill="#ff5c00" />
<rect x="213" y="201.6" width="12" height="6.09" fill="#ff6600" />
<rect x="213" y="207.39" width="12" height="6.09" fill="#ff7100" />
<rect x="213" y="213.18" width="12" height="6.09" fill="#ff7b00" />
<rect x="213" y="218.96" width="12" height="6.09" fill="#ff8600" />
<rect x="213" y="224.75" width="12" height="6.09" fill="#ff9000" />
<rect x="213" y="230.54" width="12" height="6.09" fill="#ff9a00" />
<rect x="213" y="236.32" width="12" height="6.09" fill="#ffa500" />
<rect x="213" y="242.11" width="12" height="6.09" fill="#ffaf00" />
<rect x="213" y="247.9" width="12" height="6.09" fill="#ffba00" />
<rect x="213" y="253.69" width="12" height="6.09" fill="#ffc400" />
<rect x="213" y="259.48" width="12" height="6.09" fill="#ffcf00" />
<rect x="213" y="265.26" width="12" height="6.09" fill="#ffd900" />
<rect x="213" y="271.05" width="12" height="6.09" fill="#ffe400" />
<rect x="213" y="276.84" width="12" height="6.09" fill="#ffee00" />
<rect x="213" y="282.62" width="12" height="6.09" fill="#fff900" />
<rect x="213" y="288.41" width="12" height="6.09" fill="#ffff62" />
<rect x="227.3" y="128.2" width="11.7" height="2.14" fill="#220000" />
<rect x="227.3" y="130.14" width="11.7" height="2.14" fill="#4c0000" />
<rect x="227.3" y="132.07" width="11.7" height="2.14" fill="#760000" />
<rect x="227.3" y="134.01" width="11.7" height="2.14" fill="#a00000" />
<rect x="227.3" y="135.95" width="11.7" height="2.14" fill="#ca0000" />
<rect x="227.3" y="137.89" width="11.7" height="2.14" fill="#f40000" />
<rect x="227.3" y="139.82" width="11.7" height="2.14" fill="#ff1e00" />
<rect x="227.3" y="141.76" width="11.7" height="2.14" fill="#ff4700" />
<rect x="227.3" y="143.7" width="11.7" height="2.14" fill="#ff7000" />
<rect x="227.3" y="145.64" width="11.7" height="2.14" fill="#ff9900" />
<rect x="227.3" y="147.57" width="11.7" height="2.14" fill="#ffc100" />
<rect x="227.3" y="149.51" width="11.7" height="2.14" fill="#ffea00" />
<rect x="227.3" y="151.45" width="11.7" height="2.14" fill="#ffff1d" />
<rect x="227.3" y="153.39" width="11.7" height="2.14" fill="#ffff58" />
<rect x="227.3" y="155.32" width="11.7" height="2.14" fill="#ffff93" />
<rect x="227.3" y="157.26" width="11.7" height="2.14" fill="#ffffcd" />
<text x="240.3" y="133.2" font-size="12.5" text-anchor="start" fill="#222" font-weight="normal" font-style="normal" >1</text>
<text x="240.3" y="165.8" font-size="12.5" text-anchor="start" fill="#222" font-weight="normal" font-style="normal" >0</text>
<text x="20.2" y="175.5" font-size="14" text-anchor="middle" fill="#222" font-weight="normal" font-style="normal" >Mid</text>
<text x="20.7" y="193" font-size="14" text-anchor="middle" fill="#222" font-weight="normal" font-style="normal" >Rew.</text>
<path d="M22.20,198.10 C23.38,200.43 26.12,202.62 26.12,204.78 A3.92,3.92 0 0 1 18.28,204.78 C18.28,202.62 21.02,200.43 22.20,198.10 Z" fill="#7232a6"/>
<path d="M20.02,203.25 A2.67,2.67 0 0 0 20.87,207.09" fill="none" stroke="#ffffff" stroke-opacity="0.85" stroke-width="0.64"/>
<defs>
<radialGradient id="flw" cx="0.5" cy="0.48" r="0.55"><stop offset="0" stop-color="#5a1a10"/><stop offset="0.18" stop-color="#8a4a20"/><stop offset="0.3" stop-color="#e8b030"/><stop offset="0.5" stop-color="#f5e0a0"/><stop offset="0.7" stop-color="#d8e8f8"/><stop offset="1" stop-color="#2a70c8"/></radialGradient>
</defs>
<defs><radialGradient id="bg" cx="0.45" cy="0.5" r="0.75"><stop offset="0" stop-color="#9cc8f0"/><stop offset="0.6" stop-color="#4a8ad8"/><stop offset="1" stop-color="#1a3f98"/></radialGradient>
<radialGradient id="pet" cx="0.5" cy="0.5" r="0.5"><stop offset="0.5" stop-color="#f8ecc0"/><stop offset="0.85" stop-color="#f4f0e8"/><stop offset="1" stop-color="#e0ecf8"/></radialGradient></defs>
<rect x="12.0" y="213.2" width="20.4" height="20.4" fill="url(#bg)" stroke="#f04a28" stroke-width="2.2"/>
<polygon points="30.00,223.40 28.83,224.87 29.25,226.70 27.56,227.52 27.14,229.34 25.26,229.35 24.09,230.81 22.40,230.00 20.71,230.81 19.54,229.35 17.66,229.34 17.24,227.52 15.55,226.70 15.97,224.87 14.80,223.40 15.97,221.93 15.55,220.10 17.24,219.28 17.66,217.46 19.54,217.45 20.71,215.99 22.40,216.80 24.09,215.99 25.26,217.45 27.14,217.46 27.56,219.28 29.25,220.10 28.83,221.93" fill="url(#pet)"/>
<circle cx="22.2" cy="223.4" r="4.3" fill="#e2a82a"/>
<circle cx="22.2" cy="223.4" r="2.5" fill="#6a2410"/>
<circle cx="22.2" cy="223.4" r="0.9" fill="#8a7aa0"/>
<text x="4.5" y="367" font-size="15.5" text-anchor="start" fill="#111" font-weight="bold" font-style="normal" >b</text>
<line x1="46.3" y1="363" x2="46.3" y2="483.8" stroke="#222" stroke-width="1.6" />
<line x1="43.0" y1="483.0" x2="208.5" y2="483.0" stroke="#222" stroke-width="1.6" />
<line x1="43.5" y1="371.7" x2="46.3" y2="371.7" stroke="#222" stroke-width="1.4" />
<text x="41.5" y="376.3" font-size="13" text-anchor="end" fill="#222" font-weight="normal" font-style="normal" >4</text>
<line x1="43.5" y1="398.3" x2="46.3" y2="398.3" stroke="#222" stroke-width="1.4" />
<text x="41.5" y="402.90000000000003" font-size="13" text-anchor="end" fill="#222" font-weight="normal" font-style="normal" >3</text>
<line x1="43.5" y1="424.5" x2="46.3" y2="424.5" stroke="#222" stroke-width="1.4" />
<text x="41.5" y="429.1" font-size="13" text-anchor="end" fill="#222" font-weight="normal" font-style="normal" >2</text>
<line x1="43.5" y1="450.7" x2="46.3" y2="450.7" stroke="#222" stroke-width="1.4" />
<text x="41.5" y="455.3" font-size="13" text-anchor="end" fill="#222" font-weight="normal" font-style="normal" >1</text>
<text x="41.5" y="486.40000000000003" font-size="13" text-anchor="end" fill="#222" font-weight="normal" font-style="normal" >0</text>
<line x1="46.1" y1="483.0" x2="46.1" y2="486.8" stroke="#222" stroke-width="1.5" />
<line x1="64.02000000000001" y1="483.0" x2="64.02000000000001" y2="486.8" stroke="#222" stroke-width="1.5" />
<line x1="81.94" y1="483.0" x2="81.94" y2="486.8" stroke="#222" stroke-width="1.5" />
<line x1="99.86000000000001" y1="483.0" x2="99.86000000000001" y2="486.8" stroke="#222" stroke-width="1.5" />
<line x1="117.78" y1="483.0" x2="117.78" y2="486.8" stroke="#222" stroke-width="1.5" />
<line x1="135.70000000000002" y1="483.0" x2="135.70000000000002" y2="486.8" stroke="#222" stroke-width="1.5" />
<line x1="153.62" y1="483.0" x2="153.62" y2="486.8" stroke="#222" stroke-width="1.5" />
<line x1="171.54000000000002" y1="483.0" x2="171.54000000000002" y2="486.8" stroke="#222" stroke-width="1.5" />
<line x1="189.46" y1="483.0" x2="189.46" y2="486.8" stroke="#222" stroke-width="1.5" />
<line x1="207.38000000000002" y1="483.0" x2="207.38000000000002" y2="486.8" stroke="#222" stroke-width="1.5" />
<text x="64.1" y="503.6" font-size="13.5" text-anchor="middle" fill="#222" font-weight="normal" font-style="normal" >0.24</text>
<text x="99.9" y="503.6" font-size="13.5" text-anchor="middle" fill="#222" font-weight="normal" font-style="normal" >0.48</text>
<text x="135.7" y="503.6" font-size="13.5" text-anchor="middle" fill="#222" font-weight="normal" font-style="normal" >0.72</text>
<text x="171.5" y="503.6" font-size="13.5" text-anchor="middle" fill="#222" font-weight="normal" font-style="normal" >0.96</text>
<text x="207.3" y="503.6" font-size="13.5" text-anchor="middle" fill="#222" font-weight="normal" font-style="normal" >1.2</text>
<text x="132.3" y="522" font-size="14.4" text-anchor="middle" fill="#222">Bid (mL H<tspan font-size="10.3" dy="3">2</tspan><tspan dy="-3">O)</tspan></text>
<text transform="translate(16,425) rotate(-90)" font-size="14" text-anchor="middle" fill="#222">Avg. imps/s</text>
<text x="56.2" y="380.5" font-size="14" text-anchor="start" fill="#111" font-weight="normal" font-style="normal" >p = 0.03</text>
<text x="56.2" y="397.5" font-size="14" fill="#111">R<tspan font-size="9" dy="-5">2</tspan><tspan dy="5"> = 0.45</tspan></text>
<line x1="53.1" y1="476.1" x2="198.9" y2="388.8" stroke="#222" stroke-width="1" />
<circle cx="52" cy="475.7" r="1.9" fill="#1f78c0"/>
<circle cx="72.1" cy="475.7" r="1.9" fill="#1f78c0"/>
<circle cx="88.4" cy="460.9" r="1.9" fill="#1f78c0"/>
<circle cx="104.4" cy="463.2" r="1.9" fill="#1f78c0"/>
<circle cx="118" cy="456.4" r="1.9" fill="#1f78c0"/>
<circle cx="130.9" cy="361.1" r="1.9" fill="#1f78c0"/>
<circle cx="152.6" cy="373.3" r="1.9" fill="#1f78c0"/>
<circle cx="166.2" cy="434.7" r="1.9" fill="#1f78c0"/>
<circle cx="181.8" cy="384.6" r="1.9" fill="#1f78c0"/>
<circle cx="199.2" cy="421.1" r="1.9" fill="#1f78c0"/>
<rect x="385" y="26.8" width="35.60000000000002" height="81.60000000000001" fill="#e5e5e5" />
<line x1="349.3" y1="38.8" x2="349.3" y2="108.4" stroke="#aaa" stroke-width="0.8" stroke-dasharray="2.5,2"/>
<rect x="574" y="26.8" width="31.600000000000023" height="81.60000000000001" fill="#e5e5e5" />
<line x1="537.8" y1="38.8" x2="537.8" y2="108.4" stroke="#aaa" stroke-width="0.8" stroke-dasharray="2.5,2"/>
<rect x="385" y="121.8" width="35.60000000000002" height="81.2" fill="#e5e5e5" />
<line x1="349.3" y1="121.8" x2="349.3" y2="203.0" stroke="#aaa" stroke-width="0.8" stroke-dasharray="2.5,2"/>
<rect x="574" y="121.8" width="31.600000000000023" height="81.2" fill="#e5e5e5" />
<line x1="537.8" y1="121.8" x2="537.8" y2="203.0" stroke="#aaa" stroke-width="0.8" stroke-dasharray="2.5,2"/>
<rect x="385" y="217.0" width="35.60000000000002" height="81.39999999999998" fill="#e5e5e5" />
<line x1="349.3" y1="217.0" x2="349.3" y2="298.4" stroke="#aaa" stroke-width="0.8" stroke-dasharray="2.5,2"/>
<rect x="574" y="217.0" width="31.600000000000023" height="81.39999999999998" fill="#e5e5e5" />
<line x1="537.8" y1="217.0" x2="537.8" y2="298.4" stroke="#aaa" stroke-width="0.8" stroke-dasharray="2.5,2"/>
<line x1="309.9" y1="26.3" x2="309.9" y2="109.15" stroke="#222" stroke-width="1.6" />
<line x1="309.09999999999997" y1="108.4" x2="488.3" y2="108.4" stroke="#222" stroke-width="1.6" />
<line x1="306.9" y1="31.69999999999999" x2="309.9" y2="31.69999999999999" stroke="#222" stroke-width="1.4" />
<text x="305.4" y="35.499999999999986" font-size="10.5" text-anchor="end" fill="#333" font-weight="normal" font-style="normal" >0.2</text>
<line x1="306.9" y1="57.39999999999999" x2="309.9" y2="57.39999999999999" stroke="#222" stroke-width="1.4" />
<text x="305.4" y="61.19999999999999" font-size="10.5" text-anchor="end" fill="#333" font-weight="normal" font-style="normal" >0.1</text>
<line x1="306.9" y1="83.1" x2="309.9" y2="83.1" stroke="#222" stroke-width="1.4" />
<text x="305.4" y="86.89999999999999" font-size="10.5" text-anchor="end" fill="#333" font-weight="normal" font-style="normal" >0</text>
<line x1="306.9" y1="108.8" x2="309.9" y2="108.8" stroke="#222" stroke-width="1.4" />
<text x="305.4" y="112.6" font-size="10.5" text-anchor="end" fill="#333" font-weight="normal" font-style="normal" >-0.1</text>
<line x1="309.7" y1="108.4" x2="309.7" y2="111.0" stroke="#222" stroke-width="1.4" />
<line x1="349.3" y1="108.4" x2="349.3" y2="111.0" stroke="#222" stroke-width="1.4" />
<line x1="388.90000000000003" y1="108.4" x2="388.90000000000003" y2="111.0" stroke="#222" stroke-width="1.4" />
<line x1="428.5" y1="108.4" x2="428.5" y2="111.0" stroke="#222" stroke-width="1.4" />
<line x1="468.1" y1="108.4" x2="468.1" y2="111.0" stroke="#222" stroke-width="1.4" />
<line x1="498.4" y1="26.3" x2="498.4" y2="109.15" stroke="#222" stroke-width="1.6" />
<line x1="497.59999999999997" y1="108.4" x2="676.8" y2="108.4" stroke="#222" stroke-width="1.6" />
<line x1="495.4" y1="31.69999999999999" x2="498.4" y2="31.69999999999999" stroke="#222" stroke-width="1.4" />
<line x1="495.4" y1="57.39999999999999" x2="498.4" y2="57.39999999999999" stroke="#222" stroke-width="1.4" />
<line x1="495.4" y1="83.1" x2="498.4" y2="83.1" stroke="#222" stroke-width="1.4" />
<line x1="495.4" y1="108.8" x2="498.4" y2="108.8" stroke="#222" stroke-width="1.4" />
<line x1="498.19999999999993" y1="108.4" x2="498.19999999999993" y2="111.0" stroke="#222" stroke-width="1.4" />
<line x1="537.8" y1="108.4" x2="537.8" y2="111.0" stroke="#222" stroke-width="1.4" />
<line x1="577.4" y1="108.4" x2="577.4" y2="111.0" stroke="#222" stroke-width="1.4" />
<line x1="617.0" y1="108.4" x2="617.0" y2="111.0" stroke="#222" stroke-width="1.4" />
<line x1="656.5999999999999" y1="108.4" x2="656.5999999999999" y2="111.0" stroke="#222" stroke-width="1.4" />
<text x="266.3" y="49.9" font-size="16.2" text-anchor="start" fill="#111" font-weight="bold" font-style="normal" >c</text>
<line x1="309.9" y1="121.3" x2="309.9" y2="203.75" stroke="#222" stroke-width="1.6" />
<line x1="309.09999999999997" y1="203.0" x2="488.3" y2="203.0" stroke="#222" stroke-width="1.6" />
<line x1="306.9" y1="122.0" x2="309.9" y2="122.0" stroke="#222" stroke-width="1.4" />
<text x="305.4" y="125.8" font-size="10.5" text-anchor="end" fill="#333" font-weight="normal" font-style="normal" >0.1</text>
<line x1="306.9" y1="162.6" x2="309.9" y2="162.6" stroke="#222" stroke-width="1.4" />
<text x="305.4" y="166.4" font-size="10.5" text-anchor="end" fill="#333" font-weight="normal" font-style="normal" >0</text>
<line x1="306.9" y1="203.2" x2="309.9" y2="203.2" stroke="#222" stroke-width="1.4" />
<text x="305.4" y="207.0" font-size="10.5" text-anchor="end" fill="#333" font-weight="normal" font-style="normal" >-0.1</text>
<line x1="309.7" y1="203.0" x2="309.7" y2="205.6" stroke="#222" stroke-width="1.4" />
<line x1="349.3" y1="203.0" x2="349.3" y2="205.6" stroke="#222" stroke-width="1.4" />
<line x1="388.90000000000003" y1="203.0" x2="388.90000000000003" y2="205.6" stroke="#222" stroke-width="1.4" />
<line x1="428.5" y1="203.0" x2="428.5" y2="205.6" stroke="#222" stroke-width="1.4" />
<line x1="468.1" y1="203.0" x2="468.1" y2="205.6" stroke="#222" stroke-width="1.4" />
<line x1="498.4" y1="121.3" x2="498.4" y2="203.75" stroke="#222" stroke-width="1.6" />
<line x1="497.59999999999997" y1="203.0" x2="676.8" y2="203.0" stroke="#222" stroke-width="1.6" />
<line x1="495.4" y1="122.0" x2="498.4" y2="122.0" stroke="#222" stroke-width="1.4" />
<line x1="495.4" y1="162.6" x2="498.4" y2="162.6" stroke="#222" stroke-width="1.4" />
<line x1="495.4" y1="203.2" x2="498.4" y2="203.2" stroke="#222" stroke-width="1.4" />
<line x1="498.19999999999993" y1="203.0" x2="498.19999999999993" y2="205.6" stroke="#222" stroke-width="1.4" />
<line x1="537.8" y1="203.0" x2="537.8" y2="205.6" stroke="#222" stroke-width="1.4" />
<line x1="577.4" y1="203.0" x2="577.4" y2="205.6" stroke="#222" stroke-width="1.4" />
<line x1="617.0" y1="203.0" x2="617.0" y2="205.6" stroke="#222" stroke-width="1.4" />
<line x1="656.5999999999999" y1="203.0" x2="656.5999999999999" y2="205.6" stroke="#222" stroke-width="1.4" />
<text x="265.8" y="131.9" font-size="16.2" text-anchor="start" fill="#111" font-weight="bold" font-style="normal" >d</text>
<line x1="309.9" y1="216.5" x2="309.9" y2="299.15" stroke="#222" stroke-width="1.6" />
<line x1="309.09999999999997" y1="298.4" x2="488.3" y2="298.4" stroke="#222" stroke-width="1.6" />
<line x1="306.9" y1="216.8" x2="309.9" y2="216.8" stroke="#222" stroke-width="1.4" />
<text x="305.4" y="220.60000000000002" font-size="10.5" text-anchor="end" fill="#333" font-weight="normal" font-style="normal" >0.1</text>
<line x1="306.9" y1="250.0" x2="309.9" y2="250.0" stroke="#222" stroke-width="1.4" />
<text x="305.4" y="253.8" font-size="10.5" text-anchor="end" fill="#333" font-weight="normal" font-style="normal" >0</text>
<line x1="306.9" y1="283.2" x2="309.9" y2="283.2" stroke="#222" stroke-width="1.4" />
<text x="305.4" y="287.0" font-size="10.5" text-anchor="end" fill="#333" font-weight="normal" font-style="normal" >-0.1</text>
<line x1="309.7" y1="298.4" x2="309.7" y2="301.0" stroke="#222" stroke-width="1.4" />
<text x="309.7" y="313.5" font-size="10.5" text-anchor="middle" fill="#333" font-weight="normal" font-style="normal" >-0.2</text>
<line x1="349.3" y1="298.4" x2="349.3" y2="301.0" stroke="#222" stroke-width="1.4" />
<text x="349.3" y="313.5" font-size="10.5" text-anchor="middle" fill="#333" font-weight="normal" font-style="normal" >0</text>
<line x1="388.90000000000003" y1="298.4" x2="388.90000000000003" y2="301.0" stroke="#222" stroke-width="1.4" />
<text x="388.90000000000003" y="313.5" font-size="10.5" text-anchor="middle" fill="#333" font-weight="normal" font-style="normal" >0.2</text>
<line x1="428.5" y1="298.4" x2="428.5" y2="301.0" stroke="#222" stroke-width="1.4" />
<text x="428.5" y="313.5" font-size="10.5" text-anchor="middle" fill="#333" font-weight="normal" font-style="normal" >0.4</text>
<line x1="468.1" y1="298.4" x2="468.1" y2="301.0" stroke="#222" stroke-width="1.4" />
<text x="468.1" y="313.5" font-size="10.5" text-anchor="middle" fill="#333" font-weight="normal" font-style="normal" >0.6</text>
<line x1="498.4" y1="216.5" x2="498.4" y2="299.15" stroke="#222" stroke-width="1.6" />
<line x1="497.59999999999997" y1="298.4" x2="676.8" y2="298.4" stroke="#222" stroke-width="1.6" />
<line x1="495.4" y1="216.8" x2="498.4" y2="216.8" stroke="#222" stroke-width="1.4" />
<line x1="495.4" y1="250.0" x2="498.4" y2="250.0" stroke="#222" stroke-width="1.4" />
<line x1="495.4" y1="283.2" x2="498.4" y2="283.2" stroke="#222" stroke-width="1.4" />
<line x1="498.19999999999993" y1="298.4" x2="498.19999999999993" y2="301.0" stroke="#222" stroke-width="1.4" />
<text x="498.19999999999993" y="313.5" font-size="10.5" text-anchor="middle" fill="#333" font-weight="normal" font-style="normal" >-0.2</text>
<line x1="537.8" y1="298.4" x2="537.8" y2="301.0" stroke="#222" stroke-width="1.4" />
<text x="537.8" y="313.5" font-size="10.5" text-anchor="middle" fill="#333" font-weight="normal" font-style="normal" >0</text>
<line x1="577.4" y1="298.4" x2="577.4" y2="301.0" stroke="#222" stroke-width="1.4" />
<text x="577.4" y="313.5" font-size="10.5" text-anchor="middle" fill="#333" font-weight="normal" font-style="normal" >0.2</text>
<line x1="617.0" y1="298.4" x2="617.0" y2="301.0" stroke="#222" stroke-width="1.4" />
<text x="617.0" y="313.5" font-size="10.5" text-anchor="middle" fill="#333" font-weight="normal" font-style="normal" >0.4</text>
<line x1="656.5999999999999" y1="298.4" x2="656.5999999999999" y2="301.0" stroke="#222" stroke-width="1.4" />
<text x="656.5999999999999" y="313.5" font-size="10.5" text-anchor="middle" fill="#333" font-weight="normal" font-style="normal" >0.6</text>
<text x="266.3" y="231" font-size="16.2" text-anchor="start" fill="#111" font-weight="bold" font-style="normal" >e</text>
<text x="395.6" y="330.2" font-size="14.3" text-anchor="middle" fill="#222" font-weight="normal" font-style="normal" >Time (s)</text>
<text x="604.4" y="330.2" font-size="14.3" text-anchor="middle" fill="#222" font-weight="normal" font-style="normal" >Time (s)</text>
<text transform="translate(267.2,98.2) rotate(-90)" font-size="14.4" fill="#222">Norm</text>
<text transform="translate(284.5,98.2) rotate(-90)" font-size="14" fill="#222">imps/s</text>
<text transform="translate(267.2,187.6) rotate(-90)" font-size="14.4" fill="#222">Norm</text>
<text transform="translate(284.5,187.6) rotate(-90)" font-size="14" fill="#222">imps/s</text>
<text transform="translate(267.2,283) rotate(-90)" font-size="14.4" fill="#222">Norm</text>
<text transform="translate(284.5,283) rotate(-90)" font-size="14" fill="#222">imps/s</text>
<text x="349.3" y="29.8" font-size="9.4" text-anchor="middle" fill="#8a8a8a" font-weight="normal" font-style="normal" >Rew. cue</text>
<path d="M345.10,33.50 L353.50,33.50 L349.30,39.50 Z" fill="#999"/>
<text x="537.8" y="29.8" font-size="9.4" text-anchor="middle" fill="#8a8a8a" font-weight="normal" font-style="normal" >Rew. cue</text>
<path d="M533.60,33.50 L542.00,33.50 L537.80,39.50 Z" fill="#999"/>
<text x="317.7" y="53.9" font-size="14" text-anchor="start" fill="#333" font-weight="normal" font-style="normal" >High</text>
<path d="M352.40,40.50 C354.04,43.76 357.88,46.81 357.88,49.82 A5.48,5.48 0 0 1 346.92,49.82 C346.92,46.81 350.76,43.76 352.40,40.50 Z" fill="#7232a6"/>
<path d="M349.35,47.69 A3.72,3.72 0 0 0 350.54,53.05" fill="none" stroke="#ffffff" stroke-opacity="0.85" stroke-width="0.89"/>
<text x="317" y="141.3" font-size="14" text-anchor="start" fill="#333" font-weight="normal" font-style="normal" >Mid</text>
<path d="M345.50,130.90 C346.65,133.19 349.35,135.34 349.35,137.45 A3.85,3.85 0 0 1 341.65,137.45 C341.65,135.34 344.35,133.19 345.50,130.90 Z" fill="#7232a6"/>
<path d="M343.36,135.95 A2.62,2.62 0 0 0 344.19,139.72" fill="none" stroke="#ffffff" stroke-opacity="0.85" stroke-width="0.62"/>
<text x="315.2" y="227.4" font-size="14" text-anchor="start" fill="#333" font-weight="normal" font-style="normal" >Low</text>
<path d="M347.20,221.10 C347.90,222.49 349.53,223.79 349.53,225.07 A2.33,2.33 0 0 1 344.87,225.07 C344.87,223.79 346.50,222.49 347.20,221.10 Z" fill="#7232a6"/>
<text x="417.5" y="35.9" font-size="14" text-anchor="start" fill="#111" font-weight="normal" font-style="normal" >Monkey V</text>
<line x1="417.5" y1="37.6" x2="479.7" y2="37.6" stroke="#111" stroke-width="1.0" />
<text x="618.3" y="35.9" font-size="14.4" text-anchor="start" fill="#111" font-weight="normal" font-style="normal" >Monkey U</text>
<line x1="618.3" y1="37.7" x2="682.6" y2="37.7" stroke="#111" stroke-width="1.0" />
<text x="653.6" y="52.1" font-size="14" text-anchor="middle" fill="#111" font-weight="normal" font-style="normal" >Bids</text>
<text x="630.2" y="66.2" font-size="13.5" text-anchor="start" fill="#111" font-weight="normal" font-style="normal" >L</text>
<rect x="639.4" y="55.1" width="9.6" height="11.8" fill="#7fcdbb" />
<rect x="649.0" y="55.1" width="9.6" height="11.8" fill="#1d91c0" />
<rect x="658.6" y="55.1" width="9.6" height="11.8" fill="#1c2d8a" />
<text x="669.8" y="66.2" font-size="13.5" text-anchor="start" fill="#111" font-weight="normal" font-style="normal" >H</text>
<polyline points="310.5,86.3 311.2,84.9 311.9,87.2 312.6,88.0 313.3,86.4 314.0,86.4 314.7,84.4 315.4,83.5 316.1,83.2 316.8,84.6 317.5,83.2 318.2,85.5 318.9,83.0 319.6,82.3 320.3,81.6 321.0,84.1 321.7,83.7 322.4,84.2 323.1,84.0 323.8,85.4 324.5,85.4 325.2,84.8 325.9,85.7 326.6,85.8 327.3,85.2 328.0,88.0 328.7,88.7 329.4,89.0 330.1,90.0 330.8,88.6 331.5,88.0 332.2,88.1 332.9,88.4 333.6,89.9 334.3,88.2 335.0,89.6 335.7,90.8 336.4,90.8 337.1,89.8 337.8,92.2 338.5,90.7 339.2,92.3 339.9,91.3 340.6,90.4 341.3,90.6 342.0,90.3 342.7,90.5 343.4,92.8 344.1,94.1 344.8,93.3 345.5,94.2 346.2,93.9 346.9,93.9 347.6,95.5 348.3,93.9 349.0,95.4 349.7,95.3 350.4,94.9 351.1,91.5 351.8,89.9 352.5,88.6 353.2,88.9 353.9,91.2 354.6,92.0 355.3,92.2 356.0,89.7 356.7,91.1 357.4,92.3 358.1,93.2 358.8,93.7 359.5,91.4 360.2,90.5 360.9,92.5 361.6,93.2 362.3,94.1 363.0,92.7 363.7,93.9 364.4,91.4 365.1,93.6 365.8,94.2 366.5,92.4 367.2,90.4 367.9,91.5 368.6,92.3 369.3,90.8 370.0,88.2 370.7,87.0 371.4,87.7 372.1,84.3 372.8,85.4 373.5,82.6 374.2,80.9 374.9,79.8 375.6,82.6 376.3,82.4 377.0,78.4 377.7,74.0 378.4,72.4 379.1,70.9 379.8,65.2 380.5,64.1 381.2,64.0 381.9,62.5 382.6,62.1 383.3,61.9 384.0,58.1 384.7,55.3 385.4,54.5 386.1,53.1 386.8,52.3 387.5,51.5 388.2,53.7 388.9,52.3 389.6,53.4 390.3,55.0 391.0,53.9 391.7,52.2 392.4,52.1 393.1,51.4 393.8,51.6 394.5,51.8 395.2,53.1 395.9,54.1 396.6,55.3 397.3,57.0 398.0,58.1 398.7,58.8 399.4,57.9 400.1,58.6 400.8,58.6 401.5,57.1 402.2,58.3 402.9,58.3 403.6,60.0 404.3,61.4 405.0,60.4 405.7,61.1 406.4,61.9 407.1,61.8 407.8,61.0 408.5,60.8 409.2,64.6 409.9,65.3 410.6,64.5 411.3,65.5 412.0,65.0 412.7,67.3 413.4,70.2 414.1,71.8 414.8,72.3 415.5,75.5 416.2,77.7 416.9,76.0 417.6,77.2 418.3,78.4 419.0,78.5 419.7,79.9 420.4,78.6 421.1,80.7 421.8,82.4 422.5,80.5 423.2,82.4 423.9,81.9 424.6,83.1 425.3,83.9 426.0,85.3 426.7,85.3 427.4,83.4 428.1,84.2 428.8,82.2 429.5,83.6 430.2,83.1 430.9,82.3 431.6,81.9 432.3,81.7 433.0,83.9 433.7,82.2 434.4,82.0 435.1,81.8 435.8,81.5 436.5,83.8 437.2,84.2 437.9,84.7 438.6,85.9 439.3,84.7 440.0,82.5 440.7,82.1 441.4,83.2 442.1,84.5 442.8,85.9 443.5,84.9 444.2,83.3 444.9,84.1 445.6,85.8 446.3,84.1 447.0,85.8 447.7,86.4 448.4,85.4 449.1,84.6 449.8,82.8 450.5,81.9 451.2,81.2 451.9,83.2 452.6,84.5 453.3,86.2 454.0,85.4 454.7,86.6 455.4,84.8 456.1,82.9 456.8,81.7 457.5,82.1 458.2,83.3 458.9,85.6 459.6,83.9 460.3,82.9 461.0,84.4 461.7,83.8 462.4,84.2 463.1,82.9 463.8,85.1 464.5,86.5 465.2,86.5 465.9,87.3 466.6,85.3 467.3,83.3 468.0,83.6 468.7,86.2 469.4,85.7 470.1,84.4 470.8,83.8 471.5,83.6 472.2,84.6 472.9,87.1 473.6,88.0 474.3,87.9 475.0,87.9 475.7,85.7 476.4,87.1 477.1,85.6 477.8,86.3 478.5,84.9 479.2,87.9 479.9,86.4 480.6,87.8 481.3,89.0 482.0,89.6 482.7,90.3 483.4,89.6 484.1,91.1 484.8,92.6 485.5,92.0 486.2,93.4 486.9,93.5 487.6,90.4" fill="none" stroke="#7fcdbb" stroke-width="1.9" stroke-linejoin="round" />
<polyline points="310.5,88.6 311.2,89.7 311.9,88.2 312.6,89.4 313.3,89.3 314.0,88.0 314.7,88.1 315.4,87.6 316.1,85.0 316.8,85.5 317.5,85.9 318.2,85.6 318.9,86.7 319.6,86.7 320.3,85.3 321.0,84.1 321.7,83.2 322.4,85.6 323.1,86.4 323.8,86.5 324.5,86.0 325.2,86.1 325.9,85.2 326.6,86.1 327.3,85.1 328.0,86.6 328.7,87.3 329.4,87.9 330.1,86.4 330.8,85.1 331.5,85.4 332.2,86.9 332.9,86.9 333.6,87.7 334.3,86.8 335.0,86.2 335.7,87.9 336.4,85.6 337.1,84.7 337.8,85.8 338.5,86.4 339.2,85.9 339.9,86.2 340.6,85.8 341.3,86.4 342.0,87.3 342.7,87.3 343.4,86.3 344.1,85.0 344.8,86.2 345.5,84.7 346.2,84.8 346.9,85.0 347.6,83.4 348.3,80.8 349.0,81.1 349.7,81.3 350.4,83.7 351.1,84.7 351.8,85.5 352.5,88.0 353.2,87.1 353.9,86.2 354.6,88.0 355.3,89.1 356.0,86.6 356.7,85.3 357.4,88.0 358.1,89.5 358.8,88.2 359.5,87.2 360.2,88.4 360.9,89.8 361.6,87.4 362.3,87.0 363.0,87.5 363.7,85.7 364.4,85.6 365.1,84.3 365.8,85.1 366.5,84.6 367.2,84.0 367.9,85.4 368.6,85.5 369.3,85.9 370.0,86.5 370.7,88.1 371.4,88.5 372.1,90.3 372.8,89.2 373.5,86.8 374.2,84.1 374.9,81.8 375.6,81.1 376.3,77.5 377.0,76.3 377.7,77.0 378.4,77.6 379.1,75.6 379.8,74.9 380.5,72.2 381.2,67.7 381.9,63.5 382.6,60.6 383.3,60.7 384.0,58.5 384.7,59.3 385.4,60.3 386.1,60.2 386.8,57.6 387.5,53.7 388.2,52.1 388.9,50.3 389.6,50.4 390.3,50.1 391.0,50.5 391.7,49.8 392.4,50.6 393.1,49.7 393.8,48.6 394.5,49.4 395.2,47.5 395.9,48.6 396.6,48.8 397.3,49.3 398.0,46.3 398.7,45.4 399.4,48.1 400.1,46.1 400.8,46.5 401.5,47.7 402.2,48.1 402.9,50.3 403.6,52.1 404.3,50.9 405.0,49.8 405.7,52.7 406.4,52.2 407.1,51.1 407.8,50.7 408.5,50.9 409.2,54.3 409.9,55.7 410.6,58.2 411.3,61.2 412.0,60.6 412.7,62.4 413.4,60.2 414.1,62.9 414.8,65.1 415.5,68.1 416.2,66.8 416.9,69.1 417.6,71.2 418.3,72.9 419.0,73.5 419.7,73.1 420.4,75.2 421.1,76.2 421.8,76.2 422.5,77.5 423.2,76.8 423.9,74.9 424.6,76.9 425.3,75.8 426.0,78.3 426.7,79.3 427.4,78.2 428.1,77.7 428.8,77.3 429.5,77.5 430.2,80.8 430.9,79.3 431.6,81.4 432.3,79.5 433.0,79.6 433.7,80.3 434.4,80.4 435.1,83.0 435.8,81.5 436.5,81.9 437.2,81.2 437.9,80.5 438.6,82.7 439.3,82.2 440.0,82.6 440.7,83.6 441.4,81.6 442.1,80.6 442.8,82.8 443.5,85.0 444.2,82.1 444.9,82.6 445.6,85.0 446.3,85.5 447.0,86.3 447.7,84.9 448.4,86.1 449.1,83.0 449.8,83.3 450.5,85.0 451.2,84.0 451.9,83.7 452.6,83.6 453.3,83.4 454.0,85.0 454.7,86.3 455.4,84.0 456.1,83.3 456.8,85.0 457.5,85.5 458.2,86.1 458.9,85.9 459.6,86.8 460.3,87.0 461.0,86.3 461.7,84.7 462.4,83.3 463.1,85.8 463.8,87.0 464.5,87.8 465.2,85.7 465.9,86.7 466.6,87.9 467.3,85.6 468.0,83.9 468.7,83.8 469.4,83.9 470.1,85.8 470.8,87.2 471.5,87.8 472.2,87.5 472.9,88.6 473.6,89.0 474.3,87.0 475.0,88.0 475.7,87.6 476.4,85.5 477.1,85.9 477.8,84.4 478.5,84.6 479.2,86.3 479.9,83.8 480.6,84.8 481.3,84.8 482.0,84.2 482.7,83.0 483.4,84.2 484.1,84.0 484.8,83.0 485.5,83.7 486.2,85.1 486.9,83.4 487.6,85.4" fill="none" stroke="#1d91c0" stroke-width="1.9" stroke-linejoin="round" />
<polyline points="310.5,91.9 311.2,90.7 311.9,91.1 312.6,91.3 313.3,89.3 314.0,87.8 314.7,89.1 315.4,87.7 316.1,88.1 316.8,90.2 317.5,91.1 318.2,88.4 318.9,87.1 319.6,87.0 320.3,89.4 321.0,87.4 321.7,87.3 322.4,87.0 323.1,87.1 323.8,88.9 324.5,88.5 325.2,89.4 325.9,91.3 326.6,92.3 327.3,91.6 328.0,92.9 328.7,92.7 329.4,93.7 330.1,91.8 330.8,91.3 331.5,91.8 332.2,93.3 332.9,92.5 333.6,91.3 334.3,89.7 335.0,88.8 335.7,87.9 336.4,90.3 337.1,90.9 337.8,91.0 338.5,89.5 339.2,89.5 339.9,87.8 340.6,87.8 341.3,86.3 342.0,86.5 342.7,85.7 343.4,84.5 344.1,87.1 344.8,84.9 345.5,86.7 346.2,87.1 346.9,85.6 347.6,87.5 348.3,91.4 349.0,93.8 349.7,93.4 350.4,93.8 351.1,94.3 351.8,93.6 352.5,95.2 353.2,96.7 353.9,97.1 354.6,99.1 355.3,98.3 356.0,99.4 356.7,97.5 357.4,98.6 358.1,97.9 358.8,100.2 359.5,102.2 360.2,101.8 360.9,101.5 361.6,101.3 362.3,99.4 363.0,98.9 363.7,99.3 364.4,99.6 365.1,98.8 365.8,98.6 366.5,97.6 367.2,97.7 367.9,97.8 368.6,96.1 369.3,96.7 370.0,97.6 370.7,96.4 371.4,96.5 372.1,92.5 372.8,91.5 373.5,86.7 374.2,84.1 374.9,84.1 375.6,80.7 376.3,81.7 377.0,82.1 377.7,80.8 378.4,77.0 379.1,71.5 379.8,66.7 380.5,63.6 381.2,58.4 381.9,54.9 382.6,56.6 383.3,56.6 384.0,53.7 384.7,51.8 385.4,48.2 386.1,46.7 386.8,41.4 387.5,38.8 388.2,36.2 388.9,32.3 389.6,30.1 390.3,30.7 391.0,31.7 391.7,34.1 392.4,34.9 393.1,36.9 393.8,36.1 394.5,34.6 395.2,36.5 395.9,37.8 396.6,37.5 397.3,36.9 398.0,37.9 398.7,38.9 399.4,36.5 400.1,38.5 400.8,38.7 401.5,41.4 402.2,43.4 402.9,46.2 403.6,48.9 404.3,51.2 405.0,49.8 405.7,48.2 406.4,52.0 407.1,53.7 407.8,54.4 408.5,53.9 409.2,54.2 409.9,58.6 410.6,59.5 411.3,61.4 412.0,61.9 412.7,62.0 413.4,62.7 414.1,61.4 414.8,61.4 415.5,62.9 416.2,65.6 416.9,67.6 417.6,68.9 418.3,69.1 419.0,69.1 419.7,67.9 420.4,69.2 421.1,69.8 421.8,69.7 422.5,70.7 423.2,72.4 423.9,73.3 424.6,70.6 425.3,70.3 426.0,71.6 426.7,72.6 427.4,71.4 428.1,73.5 428.8,72.7 429.5,74.1 430.2,72.4 430.9,73.1 431.6,73.1 432.3,76.7 433.0,77.8 433.7,80.3 434.4,80.1 435.1,78.9 435.8,78.4 436.5,78.4 437.2,77.9 437.9,77.5 438.6,79.7 439.3,79.6 440.0,80.4 440.7,82.0 441.4,81.2 442.1,81.7 442.8,81.6 443.5,81.7 444.2,83.1 444.9,81.5 445.6,81.9 446.3,80.9 447.0,82.7 447.7,81.9 448.4,84.2 449.1,83.2 449.8,83.4 450.5,82.9 451.2,83.8 451.9,83.7 452.6,83.4 453.3,80.8 454.0,80.0 454.7,82.1 455.4,81.7 456.1,83.8 456.8,83.5 457.5,84.2 458.2,84.3 458.9,85.3 459.6,84.7 460.3,85.7 461.0,84.2 461.7,83.0 462.4,81.9 463.1,82.0 463.8,84.7 464.5,85.0 465.2,82.6 465.9,81.4 466.6,82.6 467.3,83.3 468.0,82.9 468.7,81.1 469.4,81.2 470.1,83.6 470.8,83.9 471.5,84.4 472.2,82.3 472.9,82.8 473.6,81.2 474.3,80.8 475.0,83.3 475.7,81.5 476.4,81.1 477.1,80.7 477.8,83.3 478.5,83.9 479.2,84.0 479.9,85.3 480.6,84.6 481.3,86.3 482.0,86.8 482.7,85.3 483.4,84.6 484.1,85.7 484.8,85.9 485.5,87.6 486.2,87.8 486.9,88.4 487.6,88.1" fill="none" stroke="#1c2d8a" stroke-width="2.0" stroke-linejoin="round" />
<polyline points="499.0,85.8 499.7,86.3 500.4,86.0 501.1,83.8 501.8,83.2 502.5,84.5 503.2,85.5 503.9,82.7 504.6,82.1 505.3,84.7 506.0,82.8 506.7,84.1 507.4,83.4 508.1,84.3 508.8,85.6 509.5,85.0 510.2,84.0 510.9,83.3 511.6,84.2 512.3,84.7 513.0,84.1 513.7,84.1 514.4,84.5 515.1,83.6 515.8,82.9 516.5,84.2 517.2,83.0 517.9,84.5 518.6,86.0 519.3,86.8 520.0,84.8 520.7,84.6 521.4,86.5 522.1,85.1 522.8,87.0 523.5,84.7 524.2,86.2 524.9,83.7 525.6,85.1 526.3,86.3 527.0,85.8 527.7,85.9 528.4,87.0 529.1,87.9 529.8,85.0 530.5,85.1 531.2,83.2 531.9,83.7 532.6,83.0 533.3,82.7 534.0,84.5 534.7,83.1 535.4,82.8 536.1,82.0 536.8,84.9 537.5,83.9 538.2,82.8 538.9,84.5 539.6,85.6 540.3,85.8 541.0,85.6 541.7,85.4 542.4,86.1 543.1,84.7 543.8,86.2 544.5,86.3 545.2,87.0 545.9,87.4 546.6,87.3 547.3,85.9 548.0,85.2 548.7,85.6 549.4,85.1 550.1,82.5 550.8,84.7 551.5,82.8 552.2,83.0 552.9,82.8 553.6,81.3 554.3,82.5 555.0,83.1 555.7,84.2 556.4,83.7 557.1,81.9 557.8,81.7 558.5,82.7 559.2,81.4 559.9,81.1 560.6,77.2 561.3,77.7 562.0,75.6 562.7,74.2 563.4,74.0 564.1,73.2 564.8,72.5 565.5,72.5 566.2,72.0 566.9,70.8 567.6,71.4 568.3,67.6 569.0,65.2 569.7,62.5 570.4,62.4 571.1,60.9 571.8,61.4 572.5,60.6 573.2,59.8 573.9,60.2 574.6,58.2 575.3,60.0 576.0,59.0 576.7,57.4 577.4,56.8 578.1,57.8 578.8,56.2 579.5,55.0 580.2,53.8 580.9,53.7 581.6,54.8 582.3,54.1 583.0,52.1 583.7,53.5 584.4,51.1 585.1,51.3 585.8,53.5 586.5,55.8 587.2,55.7 587.9,54.5 588.6,56.6 589.3,57.3 590.0,55.9 590.7,56.8 591.4,60.4 592.1,59.9 592.8,61.8 593.5,64.2 594.2,69.5 594.9,71.5 595.6,75.1 596.3,77.6 597.0,76.7 597.7,78.0 598.4,77.1 599.1,79.9 599.8,80.5 600.5,81.1 601.2,83.9 601.9,86.1 602.6,84.7 603.3,84.7 604.0,85.9 604.7,86.5 605.4,87.1 606.1,87.2 606.8,89.4 607.5,89.1 608.2,89.9 608.9,88.8 609.6,86.6 610.3,86.7 611.0,85.0 611.7,85.7 612.4,84.0 613.1,86.2 613.8,84.5 614.5,85.9 615.2,83.7 615.9,82.5 616.6,82.0 617.3,83.9 618.0,84.8 618.7,84.8 619.4,84.1 620.1,82.1 620.8,81.5 621.5,80.5 622.2,83.6 622.9,81.9 623.6,83.5 624.3,81.4 625.0,81.6 625.7,83.0 626.4,82.0 627.1,81.2 627.8,84.2 628.5,83.1 629.2,81.6 629.9,83.8 630.6,86.0 631.3,85.2 632.0,82.9 632.7,83.5 633.4,84.5 634.1,83.6 634.8,83.9 635.5,85.4 636.2,85.7 636.9,86.6 637.6,87.5 638.3,86.2 639.0,87.5 639.7,84.6 640.4,84.9 641.1,85.8 641.8,87.4 642.5,86.5 643.2,86.3 643.9,88.3 644.6,87.8 645.3,86.2 646.0,87.4 646.7,87.5 647.4,89.2 648.1,90.8 648.8,88.6 649.5,88.7 650.2,91.0 650.9,91.5 651.6,91.4 652.3,89.4 653.0,90.4 653.7,89.9 654.4,89.1 655.1,87.1 655.8,86.1 656.5,83.2 657.2,81.2 657.9,79.9 658.6,79.3 659.3,80.7 660.0,83.2 660.7,82.8 661.4,83.2 662.1,83.1 662.8,83.5 663.5,80.6 664.2,79.9 664.9,81.1 665.6,78.9 666.3,79.3 667.0,78.2 667.7,76.6 668.4,76.2 669.1,77.0 669.8,76.5 670.5,80.2 671.2,80.4 671.9,80.7 672.6,83.8 673.3,82.7 674.0,85.8 674.7,86.4 675.4,85.6 676.1,86.6" fill="none" stroke="#7fcdbb" stroke-width="1.9" stroke-linejoin="round" />
<polyline points="499.0,85.5 499.7,84.0 500.4,84.9 501.1,85.8 501.8,83.4 502.5,84.0 503.2,82.3 503.9,80.8 504.6,80.8 505.3,82.4 506.0,79.9 506.7,79.8 507.4,77.5 508.1,75.1 508.8,75.0 509.5,75.2 510.2,76.1 510.9,78.9 511.6,81.0 512.3,80.0 513.0,83.2 513.7,83.5 514.4,85.3 515.1,85.4 515.8,84.3 516.5,82.9 517.2,85.3 517.9,86.9 518.6,86.3 519.3,84.1 520.0,85.9 520.7,86.5 521.4,87.2 522.1,88.0 522.8,88.4 523.5,87.7 524.2,86.0 524.9,85.9 525.6,85.8 526.3,86.8 527.0,86.8 527.7,87.6 528.4,86.8 529.1,86.7 529.8,88.2 530.5,88.2 531.2,88.8 531.9,88.3 532.6,86.0 533.3,86.3 534.0,86.1 534.7,86.1 535.4,85.6 536.1,85.4 536.8,86.8 537.5,88.6 538.2,89.9 538.9,91.2 539.6,90.4 540.3,88.2 541.0,88.2 541.7,88.1 542.4,91.7 543.1,91.5 543.8,93.4 544.5,93.5 545.2,94.3 545.9,96.0 546.6,96.1 547.3,93.8 548.0,95.0 548.7,94.6 549.4,97.2 550.1,95.9 550.8,95.5 551.5,98.1 552.2,97.2 552.9,95.0 553.6,96.3 554.3,96.6 555.0,94.3 555.7,91.3 556.4,92.2 557.1,90.2 557.8,88.9 558.5,87.5 559.2,89.7 559.9,87.3 560.6,84.8 561.3,83.5 562.0,83.2 562.7,83.2 563.4,79.1 564.1,78.2 564.8,76.0 565.5,77.2 566.2,76.4 566.9,76.8 567.6,77.3 568.3,76.0 569.0,74.8 569.7,72.0 570.4,70.9 571.1,72.2 571.8,72.6 572.5,71.8 573.2,69.1 573.9,70.5 574.6,71.6 575.3,72.1 576.0,71.5 576.7,70.1 577.4,67.5 578.1,65.4 578.8,62.9 579.5,62.7 580.2,60.9 580.9,61.5 581.6,59.4 582.3,58.6 583.0,56.0 583.7,53.5 584.4,52.4 585.1,50.9 585.8,50.4 586.5,47.2 587.2,48.8 587.9,49.3 588.6,49.2 589.3,51.9 590.0,52.4 590.7,51.5 591.4,53.2 592.1,52.4 592.8,52.5 593.5,53.4 594.2,54.8 594.9,55.0 595.6,59.6 596.3,60.9 597.0,63.3 597.7,64.3 598.4,67.0 599.1,66.6 599.8,66.2 600.5,66.7 601.2,69.8 601.9,70.9 602.6,72.0 603.3,70.7 604.0,72.1 604.7,74.6 605.4,76.5 606.1,76.7 606.8,75.9 607.5,77.2 608.2,80.4 608.9,81.8 609.6,81.4 610.3,80.0 611.0,80.4 611.7,80.6 612.4,80.2 613.1,81.6 613.8,81.2 614.5,79.2 615.2,80.9 615.9,81.6 616.6,79.7 617.3,80.5 618.0,82.8 618.7,82.6 619.4,82.7 620.1,82.0 620.8,81.6 621.5,83.7 622.2,81.8 622.9,81.8 623.6,80.3 624.3,81.3 625.0,82.3 625.7,82.9 626.4,84.3 627.1,82.1 627.8,81.0 628.5,81.1 629.2,81.0 629.9,83.4 630.6,81.7 631.3,82.0 632.0,84.3 632.7,83.0 633.4,82.6 634.1,82.4 634.8,81.9 635.5,81.7 636.2,83.7 636.9,81.3 637.6,80.5 638.3,83.1 639.0,83.9 639.7,83.1 640.4,83.0 641.1,82.9 641.8,82.1 642.5,82.6 643.2,82.6 643.9,83.6 644.6,83.2 645.3,84.1 646.0,82.5 646.7,85.7 647.4,83.3 648.1,84.1 648.8,84.1 649.5,83.1 650.2,86.1 650.9,85.2 651.6,83.7 652.3,83.4 653.0,82.6 653.7,83.5 654.4,85.5 655.1,86.1 655.8,83.2 656.5,83.7 657.2,83.2 657.9,83.7 658.6,81.4 659.3,79.9 660.0,79.5 660.7,82.5 661.4,80.2 662.1,78.9 662.8,79.8 663.5,78.3 664.2,77.7 664.9,80.2 665.6,77.8 666.3,78.6 667.0,78.9 667.7,77.1 668.4,75.9 669.1,74.1 669.8,73.4 670.5,73.7 671.2,73.8 671.9,73.5 672.6,72.7 673.3,74.3 674.0,73.6 674.7,74.1 675.4,76.1 676.1,79.3" fill="none" stroke="#1d91c0" stroke-width="1.9" stroke-linejoin="round" />
<polyline points="499.0,88.8 499.7,91.0 500.4,90.5 501.1,95.7 501.8,97.8 502.5,94.9 503.2,96.0 503.9,95.7 504.6,92.6 505.3,93.9 506.0,92.2 506.7,91.7 507.4,92.0 508.1,91.9 508.8,91.9 509.5,89.8 510.2,89.8 510.9,88.1 511.6,87.3 512.3,87.1 513.0,84.7 513.7,84.3 514.4,85.8 515.1,84.0 515.8,84.2 516.5,82.7 517.2,84.7 517.9,83.0 518.6,82.5 519.3,84.4 520.0,84.0 520.7,84.2 521.4,84.5 522.1,84.2 522.8,83.9 523.5,82.8 524.2,82.4 524.9,82.7 525.6,83.3 526.3,84.1 527.0,86.9 527.7,85.7 528.4,84.9 529.1,85.2 529.8,84.7 530.5,87.3 531.2,89.1 531.9,89.4 532.6,90.5 533.3,89.6 534.0,89.2 534.7,89.0 535.4,90.3 536.1,89.5 536.8,90.6 537.5,90.7 538.2,92.0 538.9,93.5 539.6,93.4 540.3,91.2 541.0,91.7 541.7,92.2 542.4,91.1 543.1,88.2 543.8,86.5 544.5,86.9 545.2,87.4 545.9,86.3 546.6,86.5 547.3,85.8 548.0,86.6 548.7,84.5 549.4,85.7 550.1,85.5 550.8,82.4 551.5,81.0 552.2,80.2 552.9,81.5 553.6,81.2 554.3,78.7 555.0,80.3 555.7,79.4 556.4,81.2 557.1,79.6 557.8,78.2 558.5,78.5 559.2,79.2 559.9,79.4 560.6,80.1 561.3,79.3 562.0,80.4 562.7,80.8 563.4,85.4 564.1,85.8 564.8,85.3 565.5,84.3 566.2,85.1 566.9,82.5 567.6,81.2 568.3,81.7 569.0,80.4 569.7,79.6 570.4,78.8 571.1,75.4 571.8,74.8 572.5,74.1 573.2,73.3 573.9,71.5 574.6,71.6 575.3,68.8 576.0,67.5 576.7,67.4 577.4,66.1 578.1,64.3 578.8,61.4 579.5,57.4 580.2,55.8 580.9,54.0 581.6,54.9 582.3,53.7 583.0,53.4 583.7,49.5 584.4,43.9 585.1,39.2 585.8,35.6 586.5,30.2 587.2,26.5 587.9,28.9 588.6,29.1 589.3,32.6 590.0,32.5 590.7,32.0 591.4,33.7 592.1,31.9 592.8,34.4 593.5,33.5 594.2,35.3 594.9,37.0 595.6,37.3 596.3,35.6 597.0,39.4 597.7,42.4 598.4,45.9 599.1,50.3 599.8,52.5 600.5,55.6 601.2,56.1 601.9,58.3 602.6,62.4 603.3,64.5 604.0,65.5 604.7,69.5 605.4,69.7 606.1,71.6 606.8,72.0 607.5,72.0 608.2,73.0 608.9,71.4 609.6,72.0 610.3,72.0 611.0,72.4 611.7,72.5 612.4,73.3 613.1,76.5 613.8,78.8 614.5,78.7 615.2,79.6 615.9,77.3 616.6,77.7 617.3,79.6 618.0,81.4 618.7,78.9 619.4,81.5 620.1,82.6 620.8,79.5 621.5,79.4 622.2,81.5 622.9,80.2 623.6,78.9 624.3,80.1 625.0,80.8 625.7,81.8 626.4,80.1 627.1,80.6 627.8,79.7 628.5,82.3 629.2,83.5 629.9,84.3 630.6,81.4 631.3,80.4 632.0,82.6 632.7,82.3 633.4,83.7 634.1,83.6 634.8,81.2 635.5,80.5 636.2,82.7 636.9,81.9 637.6,82.1 638.3,83.1 639.0,81.2 639.7,80.6 640.4,81.9 641.1,81.0 641.8,82.4 642.5,83.9 643.2,84.2 643.9,85.1 644.6,89.1 645.3,91.3 646.0,92.3 646.7,93.1 647.4,95.7 648.1,95.3 648.8,94.0 649.5,94.5 650.2,94.5 650.9,94.4 651.6,93.2 652.3,92.9 653.0,90.6 653.7,91.6 654.4,92.7 655.1,92.3 655.8,92.4 656.5,92.9 657.2,91.3 657.9,90.2 658.6,90.9 659.3,89.0 660.0,88.3 660.7,89.0 661.4,86.9 662.1,89.6 662.8,90.6 663.5,89.2 664.2,89.0 664.9,87.8 665.6,87.8 666.3,86.3 667.0,86.7 667.7,86.3 668.4,87.0 669.1,88.3 669.8,89.8 670.5,87.4 671.2,86.6 671.9,88.2 672.6,90.3 673.3,89.7 674.0,89.4 674.7,90.6 675.4,88.5 676.1,86.8" fill="none" stroke="#1c2d8a" stroke-width="2.0" stroke-linejoin="round" />
<polyline points="310.5,162.1 311.2,163.4 311.9,166.2 312.6,167.0 313.3,167.4 314.0,167.8 314.7,168.1 315.4,172.3 316.1,173.8 316.8,172.7 317.5,173.7 318.2,174.5 318.9,175.6 319.6,173.4 320.3,172.5 321.0,171.3 321.7,172.2 322.4,173.7 323.1,173.4 323.8,170.6 324.5,170.1 325.2,168.4 325.9,167.8 326.6,168.6 327.3,167.5 328.0,167.4 328.7,167.1 329.4,167.7 330.1,169.7 330.8,168.3 331.5,169.5 332.2,169.7 332.9,169.9 333.6,170.6 334.3,173.5 335.0,175.7 335.7,176.9 336.4,178.6 337.1,179.2 337.8,178.2 338.5,177.7 339.2,178.9 339.9,179.6 340.6,180.6 341.3,181.4 342.0,181.1 342.7,181.6 343.4,180.4 344.1,179.7 344.8,179.6 345.5,178.2 346.2,178.6 346.9,179.0 347.6,177.6 348.3,176.3 349.0,175.9 349.7,176.5 350.4,176.2 351.1,175.3 351.8,173.9 352.5,174.1 353.2,173.4 353.9,173.5 354.6,173.2 355.3,169.0 356.0,168.4 356.7,169.5 357.4,169.1 358.1,168.8 358.8,166.3 359.5,164.7 360.2,164.7 360.9,162.7 361.6,161.5 362.3,160.1 363.0,158.7 363.7,157.3 364.4,156.7 365.1,156.5 365.8,156.1 366.5,153.0 367.2,150.3 367.9,147.9 368.6,146.7 369.3,145.8 370.0,143.1 370.7,140.3 371.4,137.3 372.1,136.4 372.8,135.3 373.5,134.4 374.2,132.9 374.9,133.8 375.6,134.3 376.3,138.0 377.0,137.6 377.7,138.3 378.4,142.7 379.1,145.3 379.8,144.9 380.5,144.8 381.2,144.9 381.9,146.5 382.6,148.4 383.3,150.3 384.0,156.5 384.7,160.5 385.4,163.8 386.1,163.6 386.8,166.1 387.5,165.2 388.2,167.2 388.9,165.6 389.6,167.6 390.3,167.3 391.0,171.2 391.7,173.3 392.4,172.9 393.1,175.2 393.8,176.0 394.5,174.0 395.2,175.8 395.9,176.5 396.6,174.1 397.3,174.4 398.0,172.8 398.7,170.7 399.4,171.2 400.1,169.8 400.8,171.7 401.5,172.0 402.2,170.2 402.9,170.0 403.6,168.6 404.3,168.9 405.0,169.8 405.7,170.7 406.4,171.3 407.1,169.7 407.8,167.8 408.5,168.2 409.2,166.7 409.9,166.5 410.6,164.1 411.3,164.8 412.0,161.9 412.7,161.2 413.4,160.0 414.1,160.0 414.8,161.0 415.5,162.6 416.2,159.4 416.9,159.6 417.6,157.6 418.3,158.4 419.0,157.8 419.7,157.9 420.4,157.5 421.1,155.8 421.8,153.5 422.5,154.5 423.2,154.0 423.9,153.3 424.6,152.7 425.3,156.0 426.0,156.1 426.7,155.5 427.4,156.0 428.1,156.5 428.8,156.9 429.5,160.4 430.2,161.3 430.9,161.5 431.6,162.1 432.3,162.4 433.0,163.8 433.7,164.7 434.4,163.2 435.1,163.9 435.8,165.8 436.5,165.4 437.2,163.7 437.9,161.6 438.6,159.4 439.3,156.5 440.0,154.6 440.7,151.8 441.4,149.0 442.1,147.0 442.8,148.5 443.5,148.1 444.2,143.5 444.9,142.1 445.6,140.1 446.3,140.0 447.0,141.1 447.7,140.3 448.4,141.3 449.1,141.2 449.8,143.4 450.5,143.7 451.2,145.5 451.9,147.7 452.6,149.2 453.3,151.7 454.0,154.9 454.7,155.7 455.4,158.4 456.1,157.3 456.8,159.3 457.5,160.8 458.2,161.8 458.9,161.5 459.6,160.4 460.3,162.0 461.0,163.2 461.7,163.5 462.4,165.1 463.1,164.0 463.8,163.8 464.5,164.4 465.2,167.5 465.9,165.2 466.6,164.9 467.3,166.6 468.0,167.4 468.7,165.6 469.4,164.7 470.1,165.5 470.8,162.9 471.5,160.6 472.2,159.8 472.9,160.8 473.6,159.3 474.3,159.2 475.0,156.9 475.7,158.7 476.4,159.8 477.1,160.1 477.8,157.2 478.5,159.1 479.2,159.7 479.9,157.2 480.6,156.8 481.3,155.4 482.0,155.5 482.7,157.1 483.4,154.9 484.1,156.1 484.8,157.1 485.5,154.5 486.2,153.7 486.9,155.8 487.6,156.9" fill="none" stroke="#7fcdbb" stroke-width="1.9" stroke-linejoin="round" />
<polyline points="310.5,163.6 311.2,165.8 311.9,167.2 312.6,166.1 313.3,165.4 314.0,165.0 314.7,164.5 315.4,165.1 316.1,165.4 316.8,168.3 317.5,166.9 318.2,166.3 318.9,169.0 319.6,170.3 320.3,167.8 321.0,167.8 321.7,170.6 322.4,169.6 323.1,170.3 323.8,170.9 324.5,171.0 325.2,168.7 325.9,170.1 326.6,170.6 327.3,168.8 328.0,167.0 328.7,166.9 329.4,167.2 330.1,166.3 330.8,162.2 331.5,161.9 332.2,160.1 332.9,160.9 333.6,160.8 334.3,158.8 335.0,159.6 335.7,160.0 336.4,157.2 337.1,157.3 337.8,159.8 338.5,158.3 339.2,158.8 339.9,160.1 340.6,159.9 341.3,162.0 342.0,160.8 342.7,162.3 343.4,163.1 344.1,161.6 344.8,164.3 345.5,165.6 346.2,166.6 346.9,164.5 347.6,165.0 348.3,163.6 349.0,165.1 349.7,165.0 350.4,165.8 351.1,162.7 351.8,161.5 352.5,159.8 353.2,162.3 353.9,162.1 354.6,160.0 355.3,161.4 356.0,160.5 356.7,159.3 357.4,159.5 358.1,158.5 358.8,156.3 359.5,153.7 360.2,152.4 360.9,151.5 361.6,150.2 362.3,149.6 363.0,150.6 363.7,152.2 364.4,150.6 365.1,148.4 365.8,145.1 366.5,146.3 367.2,143.8 367.9,142.0 368.6,142.5 369.3,143.2 370.0,140.5 370.7,139.3 371.4,139.6 372.1,143.1 372.8,143.1 373.5,141.8 374.2,143.6 374.9,144.0 375.6,142.6 376.3,141.8 377.0,143.1 377.7,146.8 378.4,147.2 379.1,150.7 379.8,151.0 380.5,152.1 381.2,152.8 381.9,156.1 382.6,156.7 383.3,160.7 384.0,161.5 384.7,159.5 385.4,160.9 386.1,161.5 386.8,163.3 387.5,165.0 388.2,164.8 388.9,167.2 389.6,169.8 390.3,169.4 391.0,172.8 391.7,173.8 392.4,172.0 393.1,171.0 393.8,172.4 394.5,174.6 395.2,176.3 395.9,175.8 396.6,178.2 397.3,179.7 398.0,179.4 398.7,180.8 399.4,182.1 400.1,183.1 400.8,181.6 401.5,181.8 402.2,185.2 402.9,187.9 403.6,186.8 404.3,186.9 405.0,183.9 405.7,180.5 406.4,179.7 407.1,176.7 407.8,176.7 408.5,175.5 409.2,171.9 409.9,171.3 410.6,173.0 411.3,170.2 412.0,168.7 412.7,166.2 413.4,166.4 414.1,166.1 414.8,163.5 415.5,161.6 416.2,156.5 416.9,155.3 417.6,154.3 418.3,152.2 419.0,148.1 419.7,146.1 420.4,147.6 421.1,147.4 421.8,146.3 422.5,145.4 423.2,144.2 423.9,146.8 424.6,147.5 425.3,146.1 426.0,145.6 426.7,148.9 427.4,150.1 428.1,147.0 428.8,146.4 429.5,149.4 430.2,149.6 430.9,152.1 431.6,152.5 432.3,153.2 433.0,156.8 433.7,156.8 434.4,160.3 435.1,162.1 435.8,161.2 436.5,164.7 437.2,167.0 437.9,165.2 438.6,166.3 439.3,166.8 440.0,166.0 440.7,167.5 441.4,168.8 442.1,169.2 442.8,168.9 443.5,167.1 444.2,167.1 444.9,167.9 445.6,165.9 446.3,166.7 447.0,165.6 447.7,167.0 448.4,165.3 449.1,165.3 449.8,164.9 450.5,163.5 451.2,163.9 451.9,164.5 452.6,163.8 453.3,164.0 454.0,162.6 454.7,158.4 455.4,157.2 456.1,155.4 456.8,152.1 457.5,153.4 458.2,152.0 458.9,149.5 459.6,149.1 460.3,148.7 461.0,148.8 461.7,149.2 462.4,148.3 463.1,147.9 463.8,148.3 464.5,147.6 465.2,147.0 465.9,150.2 466.6,152.3 467.3,151.4 468.0,152.9 468.7,153.8 469.4,154.5 470.1,157.8 470.8,158.7 471.5,159.3 472.2,161.8 472.9,163.4 473.6,162.3 474.3,163.0 475.0,162.1 475.7,161.7 476.4,161.5 477.1,161.6 477.8,161.3 478.5,160.6 479.2,163.8 479.9,163.8 480.6,163.0 481.3,163.6 482.0,165.7 482.7,163.4 483.4,165.5 484.1,164.3 484.8,162.7 485.5,165.8 486.2,164.4 486.9,166.5 487.6,164.0" fill="none" stroke="#1d91c0" stroke-width="1.9" stroke-linejoin="round" />
<polyline points="310.5,160.1 311.2,160.4 311.9,160.8 312.6,159.1 313.3,159.9 314.0,162.0 314.7,161.3 315.4,160.7 316.1,161.5 316.8,160.5 317.5,159.3 318.2,161.0 318.9,159.0 319.6,160.6 320.3,161.0 321.0,159.4 321.7,158.1 322.4,155.4 323.1,154.3 323.8,156.0 324.5,156.6 325.2,156.5 325.9,154.7 326.6,156.7 327.3,159.2 328.0,160.5 328.7,160.8 329.4,160.6 330.1,160.8 330.8,160.1 331.5,159.4 332.2,162.8 332.9,162.1 333.6,162.0 334.3,162.7 335.0,165.4 335.7,166.7 336.4,166.8 337.1,167.5 337.8,167.1 338.5,167.6 339.2,168.5 339.9,168.4 340.6,165.9 341.3,166.8 342.0,168.1 342.7,169.5 343.4,171.7 344.1,172.6 344.8,171.9 345.5,172.2 346.2,173.6 346.9,174.2 347.6,172.5 348.3,171.1 349.0,170.3 349.7,168.4 350.4,167.5 351.1,167.3 351.8,165.5 352.5,165.9 353.2,166.0 353.9,170.2 354.6,173.1 355.3,174.7 356.0,174.3 356.7,172.7 357.4,172.4 358.1,172.0 358.8,173.5 359.5,173.1 360.2,173.6 360.9,173.7 361.6,170.8 362.3,168.7 363.0,169.8 363.7,168.9 364.4,170.1 365.1,169.1 365.8,166.6 366.5,165.9 367.2,161.9 367.9,157.7 368.6,153.4 369.3,151.5 370.0,150.7 370.7,147.5 371.4,146.3 372.1,145.7 372.8,148.4 373.5,148.9 374.2,150.1 374.9,148.3 375.6,147.9 376.3,150.6 377.0,150.8 377.7,148.6 378.4,146.7 379.1,147.6 379.8,147.5 380.5,144.3 381.2,146.6 381.9,144.9 382.6,146.5 383.3,149.6 384.0,153.3 384.7,156.6 385.4,155.7 386.1,156.8 386.8,156.9 387.5,156.4 388.2,158.7 388.9,157.7 389.6,158.6 390.3,160.3 391.0,161.7 391.7,161.6 392.4,162.4 393.1,162.7 393.8,161.2 394.5,160.6 395.2,163.3 395.9,162.1 396.6,165.1 397.3,163.9 398.0,165.3 398.7,168.0 399.4,167.7 400.1,170.5 400.8,171.4 401.5,174.6 402.2,176.4 402.9,178.1 403.6,175.2 404.3,173.8 405.0,171.5 405.7,169.8 406.4,167.1 407.1,165.3 407.8,166.0 408.5,168.3 409.2,167.9 409.9,167.4 410.6,167.9 411.3,166.3 412.0,165.0 412.7,164.0 413.4,162.6 414.1,160.0 414.8,157.9 415.5,159.5 416.2,158.2 416.9,158.5 417.6,155.4 418.3,155.5 419.0,157.1 419.7,154.2 420.4,156.8 421.1,155.6 421.8,156.0 422.5,156.8 423.2,157.3 423.9,156.7 424.6,159.2 425.3,158.0 426.0,156.4 426.7,155.9 427.4,159.6 428.1,158.2 428.8,157.9 429.5,158.6 430.2,158.5 430.9,157.4 431.6,158.1 432.3,157.5 433.0,154.9 433.7,155.8 434.4,155.7 435.1,155.3 435.8,154.6 436.5,151.1 437.2,149.3 437.9,151.3 438.6,149.4 439.3,151.2 440.0,151.8 440.7,151.3 441.4,150.3 442.1,147.2 442.8,149.0 443.5,148.1 444.2,149.6 444.9,150.8 445.6,148.1 446.3,148.5 447.0,148.6 447.7,148.6 448.4,152.1 449.1,153.0 449.8,153.3 450.5,154.6 451.2,154.7 451.9,152.8 452.6,154.3 453.3,155.6 454.0,156.4 454.7,157.2 455.4,155.4 456.1,155.5 456.8,155.8 457.5,154.1 458.2,154.9 458.9,152.1 459.6,151.0 460.3,149.7 461.0,150.6 461.7,150.6 462.4,150.0 463.1,149.6 463.8,149.1 464.5,149.5 465.2,148.2 465.9,146.8 466.6,147.7 467.3,150.5 468.0,148.3 468.7,149.5 469.4,148.5 470.1,147.8 470.8,150.4 471.5,151.5 472.2,150.5 472.9,151.4 473.6,151.8 474.3,151.7 475.0,152.6 475.7,153.4 476.4,154.1 477.1,154.1 477.8,156.1 478.5,157.8 479.2,158.5 479.9,157.8 480.6,157.9 481.3,160.9 482.0,163.6 482.7,166.4 483.4,168.3 484.1,167.7 484.8,166.7 485.5,169.0 486.2,169.9 486.9,171.1 487.6,169.7" fill="none" stroke="#1c2d8a" stroke-width="2.0" stroke-linejoin="round" />
<polyline points="499.0,165.2 499.7,164.7 500.4,167.0 501.1,166.6 501.8,168.2 502.5,168.9 503.2,170.8 503.9,170.2 504.6,171.4 505.3,171.3 506.0,169.8 506.7,171.5 507.4,171.9 508.1,168.2 508.8,167.5 509.5,165.9 510.2,164.0 510.9,163.1 511.6,162.6 512.3,160.7 513.0,160.2 513.7,160.3 514.4,161.3 515.1,160.3 515.8,157.8 516.5,153.9 517.2,152.6 517.9,151.2 518.6,149.4 519.3,145.5 520.0,144.8 520.7,143.9 521.4,144.4 522.1,146.4 522.8,145.9 523.5,145.1 524.2,144.1 524.9,143.7 525.6,146.2 526.3,147.9 527.0,148.4 527.7,145.4 528.4,145.9 529.1,146.6 529.8,149.2 530.5,150.3 531.2,152.7 531.9,154.2 532.6,155.7 533.3,155.8 534.0,156.3 534.7,155.8 535.4,160.5 536.1,161.9 536.8,165.7 537.5,166.4 538.2,166.7 538.9,171.0 539.6,171.1 540.3,169.6 541.0,172.0 541.7,172.9 542.4,169.9 543.1,171.9 543.8,169.3 544.5,168.1 545.2,167.5 545.9,170.0 546.6,169.9 547.3,169.6 548.0,170.0 548.7,168.5 549.4,166.9 550.1,166.3 550.8,166.7 551.5,168.5 552.2,167.6 552.9,167.3 553.6,167.9 554.3,167.6 555.0,167.6 555.7,167.3 556.4,165.8 557.1,164.5 557.8,164.5 558.5,162.6 559.2,158.4 559.9,156.9 560.6,157.4 561.3,157.7 562.0,157.3 562.7,156.7 563.4,156.5 564.1,155.4 564.8,152.8 565.5,151.3 566.2,153.4 566.9,152.4 567.6,153.3 568.3,152.7 569.0,150.5 569.7,147.4 570.4,145.4 571.1,142.0 571.8,140.1 572.5,140.6 573.2,141.0 573.9,142.5 574.6,144.5 575.3,147.1 576.0,148.9 576.7,151.1 577.4,154.8 578.1,153.6 578.8,156.4 579.5,159.6 580.2,161.4 580.9,166.2 581.6,171.6 582.3,178.0 583.0,181.5 583.7,182.6 584.4,183.3 585.1,183.7 585.8,183.8 586.5,186.9 587.2,189.0 587.9,187.4 588.6,189.7 589.3,191.4 590.0,189.4 590.7,189.6 591.4,188.4 592.1,188.5 592.8,189.8 593.5,187.8 594.2,187.9 594.9,188.2 595.6,189.0 596.3,189.4 597.0,189.0 597.7,186.5 598.4,184.9 599.1,186.1 599.8,186.2 600.5,185.8 601.2,184.6 601.9,185.2 602.6,182.1 603.3,180.8 604.0,182.5 604.7,181.3 605.4,182.1 606.1,181.5 606.8,180.3 607.5,177.1 608.2,177.1 608.9,174.1 609.6,169.4 610.3,167.7 611.0,167.2 611.7,168.3 612.4,168.0 613.1,169.0 613.8,166.7 614.5,164.2 615.2,164.2 615.9,165.6 616.6,164.1 617.3,164.0 618.0,163.3 618.7,162.4 619.4,159.8 620.1,155.9 620.8,155.7 621.5,153.0 622.2,152.2 622.9,150.7 623.6,150.0 624.3,149.7 625.0,150.0 625.7,151.0 626.4,150.8 627.1,150.5 627.8,147.7 628.5,148.3 629.2,148.4 629.9,149.5 630.6,149.6 631.3,152.2 632.0,156.4 632.7,158.8 633.4,160.3 634.1,158.3 634.8,160.5 635.5,159.6 636.2,159.4 636.9,160.4 637.6,161.0 638.3,161.8 639.0,165.7 639.7,167.1 640.4,168.1 641.1,169.8 641.8,169.5 642.5,170.0 643.2,170.5 643.9,172.3 644.6,175.2 645.3,173.0 646.0,172.9 646.7,174.9 647.4,172.7 648.1,172.6 648.8,173.6 649.5,173.1 650.2,170.9 650.9,169.1 651.6,167.8 652.3,167.1 653.0,169.1 653.7,168.3 654.4,167.3 655.1,168.8 655.8,167.2 656.5,165.6 657.2,165.6 657.9,163.5 658.6,165.3 659.3,161.7 660.0,161.1 660.7,158.8 661.4,158.0 662.1,159.8 662.8,157.4 663.5,158.6 664.2,158.5 664.9,156.1 665.6,158.6 666.3,155.9 667.0,157.3 667.7,158.0 668.4,155.6 669.1,153.9 669.8,152.5 670.5,152.5 671.2,151.7 671.9,149.1 672.6,147.4 673.3,146.4 674.0,145.5 674.7,145.2 675.4,147.6 676.1,151.4" fill="none" stroke="#7fcdbb" stroke-width="1.9" stroke-linejoin="round" />
<polyline points="499.0,161.5 499.7,161.2 500.4,165.3 501.1,166.5 501.8,167.4 502.5,169.0 503.2,167.6 503.9,166.7 504.6,166.5 505.3,164.9 506.0,165.1 506.7,163.3 507.4,161.6 508.1,159.8 508.8,158.3 509.5,159.5 510.2,161.0 510.9,159.4 511.6,160.3 512.3,158.5 513.0,159.3 513.7,157.3 514.4,157.4 515.1,156.5 515.8,157.7 516.5,157.5 517.2,154.6 517.9,153.1 518.6,153.8 519.3,153.0 520.0,152.8 520.7,155.8 521.4,157.7 522.1,155.4 522.8,155.1 523.5,157.8 524.2,160.6 524.9,161.5 525.6,160.8 526.3,159.9 527.0,157.4 527.7,155.3 528.4,155.0 529.1,151.4 529.8,152.1 530.5,152.8 531.2,151.3 531.9,153.7 532.6,153.1 533.3,156.9 534.0,158.7 534.7,159.2 535.4,160.9 536.1,164.1 536.8,163.9 537.5,163.8 538.2,166.1 538.9,168.3 539.6,166.4 540.3,167.9 541.0,168.0 541.7,170.6 542.4,172.5 543.1,176.6 543.8,177.9 544.5,180.4 545.2,181.2 545.9,177.5 546.6,178.1 547.3,176.4 548.0,171.7 548.7,170.0 549.4,166.7 550.1,163.4 550.8,161.3 551.5,161.4 552.2,163.7 552.9,161.4 553.6,162.2 554.3,163.3 555.0,161.3 555.7,161.4 556.4,160.5 557.1,160.4 557.8,158.9 558.5,160.0 559.2,158.1 559.9,156.5 560.6,155.4 561.3,155.3 562.0,154.3 562.7,156.9 563.4,154.3 564.1,155.6 564.8,155.4 565.5,153.7 566.2,150.8 566.9,149.7 567.6,151.9 568.3,150.6 569.0,151.3 569.7,149.0 570.4,147.8 571.1,148.8 571.8,149.6 572.5,149.9 573.2,152.3 573.9,153.8 574.6,154.9 575.3,154.9 576.0,155.7 576.7,155.7 577.4,157.0 578.1,156.8 578.8,158.8 579.5,162.9 580.2,164.5 580.9,168.5 581.6,170.0 582.3,174.4 583.0,174.9 583.7,175.1 584.4,175.2 585.1,173.6 585.8,176.1 586.5,173.9 587.2,173.8 587.9,175.1 588.6,177.5 589.3,177.7 590.0,178.6 590.7,176.8 591.4,177.0 592.1,177.6 592.8,176.6 593.5,175.9 594.2,177.0 594.9,176.8 595.6,176.7 596.3,177.7 597.0,181.1 597.7,181.9 598.4,182.9 599.1,182.8 599.8,182.3 600.5,183.8 601.2,182.9 601.9,182.9 602.6,183.8 603.3,184.0 604.0,184.3 604.7,185.5 605.4,187.2 606.1,185.3 606.8,184.2 607.5,181.2 608.2,179.8 608.9,175.0 609.6,171.6 610.3,169.2 611.0,166.3 611.7,164.3 612.4,158.8 613.1,157.7 613.8,156.0 614.5,158.3 615.2,156.5 615.9,157.6 616.6,156.5 617.3,156.6 618.0,156.4 618.7,156.4 619.4,156.4 620.1,154.5 620.8,154.9 621.5,156.5 622.2,157.2 622.9,156.6 623.6,158.6 624.3,160.0 625.0,160.0 625.7,160.6 626.4,161.5 627.1,164.5 627.8,163.4 628.5,166.1 629.2,164.1 629.9,163.7 630.6,165.4 631.3,166.1 632.0,164.9 632.7,164.4 633.4,165.4 634.1,166.7 634.8,165.9 635.5,166.0 636.2,166.0 636.9,167.7 637.6,168.9 638.3,168.3 639.0,166.6 639.7,166.5 640.4,166.5 641.1,167.2 641.8,166.2 642.5,166.8 643.2,166.6 643.9,166.5 644.6,167.9 645.3,166.2 646.0,164.6 646.7,162.7 647.4,161.7 648.1,163.7 648.8,165.3 649.5,164.9 650.2,162.7 650.9,160.9 651.6,161.6 652.3,160.3 653.0,159.7 653.7,161.6 654.4,160.5 655.1,161.4 655.8,163.2 656.5,162.6 657.2,161.9 657.9,162.0 658.6,163.7 659.3,161.5 660.0,162.6 660.7,161.1 661.4,162.0 662.1,160.0 662.8,159.1 663.5,159.3 664.2,161.4 664.9,160.4 665.6,161.9 666.3,160.8 667.0,162.5 667.7,163.4 668.4,163.3 669.1,161.0 669.8,159.4 670.5,160.4 671.2,160.5 671.9,160.1 672.6,163.4 673.3,166.0 674.0,167.9 674.7,169.6 675.4,169.4 676.1,169.3" fill="none" stroke="#1d91c0" stroke-width="1.9" stroke-linejoin="round" />
<polyline points="499.0,159.8 499.7,161.5 500.4,163.1 501.1,165.0 501.8,167.5 502.5,168.7 503.2,167.2 503.9,166.7 504.6,167.4 505.3,168.1 506.0,171.6 506.7,173.1 507.4,173.7 508.1,174.2 508.8,174.4 509.5,176.1 510.2,178.0 510.9,175.5 511.6,174.9 512.3,173.4 513.0,172.9 513.7,170.3 514.4,167.3 515.1,167.3 515.8,164.8 516.5,164.2 517.2,164.1 517.9,162.2 518.6,162.3 519.3,161.7 520.0,158.5 520.7,157.7 521.4,158.3 522.1,157.1 522.8,153.9 523.5,155.2 524.2,154.7 524.9,153.7 525.6,153.5 526.3,151.6 527.0,151.8 527.7,150.1 528.4,151.7 529.1,154.2 529.8,153.4 530.5,154.4 531.2,157.3 531.9,161.0 532.6,160.8 533.3,162.4 534.0,164.4 534.7,163.6 535.4,162.7 536.1,165.2 536.8,166.0 537.5,166.5 538.2,166.8 538.9,165.4 539.6,166.3 540.3,166.7 541.0,167.2 541.7,166.6 542.4,166.4 543.1,168.5 543.8,170.5 544.5,171.4 545.2,172.7 545.9,168.7 546.6,165.3 547.3,164.3 548.0,165.2 548.7,167.0 549.4,169.4 550.1,168.0 550.8,169.8 551.5,171.6 552.2,172.1 552.9,170.1 553.6,166.3 554.3,163.8 555.0,161.9 555.7,160.1 556.4,155.8 557.1,153.5 557.8,152.7 558.5,151.2 559.2,153.3 559.9,150.8 560.6,149.2 561.3,150.1 562.0,149.9 562.7,144.8 563.4,141.4 564.1,140.7 564.8,140.4 565.5,140.7 566.2,143.4 566.9,145.5 567.6,145.6 568.3,144.1 569.0,145.8 569.7,146.2 570.4,147.9 571.1,148.8 571.8,149.2 572.5,150.7 573.2,149.9 573.9,150.4 574.6,151.3 575.3,150.5 576.0,149.8 576.7,153.6 577.4,155.7 578.1,157.7 578.8,159.8 579.5,160.2 580.2,162.3 580.9,161.4 581.6,161.8 582.3,164.5 583.0,166.1 583.7,166.8 584.4,166.5 585.1,167.7 585.8,168.0 586.5,168.8 587.2,169.7 587.9,168.9 588.6,167.8 589.3,167.5 590.0,169.4 590.7,171.9 591.4,172.3 592.1,173.2 592.8,170.4 593.5,169.2 594.2,170.4 594.9,169.4 595.6,168.7 596.3,169.6 597.0,166.6 597.7,168.2 598.4,165.5 599.1,165.4 599.8,165.2 600.5,164.4 601.2,164.2 601.9,162.3 602.6,160.9 603.3,161.8 604.0,163.3 604.7,160.4 605.4,159.3 606.1,162.2 606.8,159.5 607.5,158.4 608.2,159.1 608.9,158.5 609.6,159.5 610.3,158.8 611.0,159.7 611.7,157.4 612.4,156.9 613.1,156.9 613.8,159.8 614.5,162.5 615.2,161.8 615.9,161.6 616.6,161.6 617.3,162.6 618.0,166.7 618.7,168.7 619.4,169.6 620.1,166.9 620.8,165.4 621.5,168.5 622.2,169.1 622.9,170.3 623.6,171.2 624.3,171.9 625.0,169.1 625.7,171.6 626.4,171.9 627.1,173.9 627.8,171.9 628.5,171.9 629.2,170.9 629.9,173.0 630.6,173.1 631.3,174.0 632.0,172.8 632.7,172.7 633.4,170.4 634.1,167.6 634.8,165.8 635.5,164.4 636.2,163.0 636.9,164.8 637.6,165.2 638.3,166.1 639.0,165.6 639.7,163.0 640.4,161.8 641.1,161.7 641.8,161.2 642.5,159.8 643.2,161.3 643.9,161.6 644.6,160.5 645.3,160.7 646.0,161.0 646.7,161.2 647.4,161.7 648.1,162.4 648.8,164.5 649.5,163.1 650.2,162.1 650.9,162.3 651.6,164.8 652.3,165.9 653.0,168.7 653.7,168.9 654.4,170.9 655.1,172.0 655.8,170.9 656.5,170.2 657.2,172.0 657.9,171.9 658.6,171.0 659.3,170.2 660.0,172.9 660.7,174.6 661.4,174.2 662.1,171.2 662.8,169.1 663.5,170.1 664.2,169.2 664.9,170.4 665.6,168.6 666.3,168.3 667.0,165.2 667.7,163.5 668.4,165.4 669.1,165.6 669.8,166.8 670.5,165.3 671.2,165.6 671.9,165.7 672.6,167.3 673.3,167.7 674.0,169.2 674.7,167.4 675.4,168.8 676.1,168.4" fill="none" stroke="#1c2d8a" stroke-width="2.0" stroke-linejoin="round" />
<polyline points="310.5,248.5 311.2,250.6 311.9,250.4 312.6,246.8 313.3,246.6 314.0,244.5 314.7,245.4 315.4,245.1 316.1,242.3 316.8,241.9 317.5,241.3 318.2,240.2 318.9,240.3 319.6,240.1 320.3,240.1 321.0,241.9 321.7,241.7 322.4,238.6 323.1,238.4 323.8,240.7 324.5,240.9 325.2,240.4 325.9,240.4 326.6,240.7 327.3,238.9 328.0,239.3 328.7,239.2 329.4,239.0 330.1,241.1 330.8,239.6 331.5,239.6 332.2,241.8 332.9,243.5 333.6,242.1 334.3,244.2 335.0,245.9 335.7,244.9 336.4,248.4 337.1,247.9 337.8,249.6 338.5,249.4 339.2,249.6 339.9,251.9 340.6,253.5 341.3,251.3 342.0,251.1 342.7,252.1 343.4,252.5 344.1,250.7 344.8,252.1 345.5,250.3 346.2,252.8 346.9,252.8 347.6,252.7 348.3,253.7 349.0,251.4 349.7,250.3 350.4,251.4 351.1,253.0 351.8,253.8 352.5,253.5 353.2,252.6 353.9,251.2 354.6,252.2 355.3,252.0 356.0,252.8 356.7,252.6 357.4,251.5 358.1,251.5 358.8,249.8 359.5,249.3 360.2,250.9 360.9,249.2 361.6,242.8 362.3,238.8 363.0,238.1 363.7,238.4 364.4,236.4 365.1,234.1 365.8,233.8 366.5,230.3 367.2,228.4 367.9,229.5 368.6,227.5 369.3,226.4 370.0,223.3 370.7,223.3 371.4,222.2 372.1,218.7 372.8,218.7 373.5,217.6 374.2,220.1 374.9,220.7 375.6,221.1 376.3,225.1 377.0,225.9 377.7,227.5 378.4,230.4 379.1,229.4 379.8,229.5 380.5,231.7 381.2,232.1 381.9,236.6 382.6,239.9 383.3,244.6 384.0,246.5 384.7,248.7 385.4,248.0 386.1,248.8 386.8,252.9 387.5,258.6 388.2,264.6 388.9,268.5 389.6,270.4 390.3,270.3 391.0,271.8 391.7,274.4 392.4,276.8 393.1,276.9 393.8,279.1 394.5,282.7 395.2,284.1 395.9,283.8 396.6,284.6 397.3,282.7 398.0,283.5 398.7,285.3 399.4,283.6 400.1,281.7 400.8,282.7 401.5,282.6 402.2,281.3 402.9,280.2 403.6,278.6 404.3,278.2 405.0,280.8 405.7,280.5 406.4,282.0 407.1,282.9 407.8,282.3 408.5,280.2 409.2,278.1 409.9,280.1 410.6,277.8 411.3,276.4 412.0,276.7 412.7,276.1 413.4,275.8 414.1,275.2 414.8,274.4 415.5,274.0 416.2,277.1 416.9,275.0 417.6,275.0 418.3,275.5 419.0,275.1 419.7,275.9 420.4,276.4 421.1,275.0 421.8,273.7 422.5,273.9 423.2,272.3 423.9,270.1 424.6,269.4 425.3,268.2 426.0,265.5 426.7,264.1 427.4,262.3 428.1,259.7 428.8,261.6 429.5,260.7 430.2,260.5 430.9,258.4 431.6,258.0 432.3,256.4 433.0,258.4 433.7,257.9 434.4,256.5 435.1,256.0 435.8,254.2 436.5,253.2 437.2,254.3 437.9,250.9 438.6,251.4 439.3,250.4 440.0,249.2 440.7,248.6 441.4,250.0 442.1,248.8 442.8,251.2 443.5,250.9 444.2,250.4 444.9,250.8 445.6,251.0 446.3,251.3 447.0,251.0 447.7,251.3 448.4,250.9 449.1,252.8 449.8,252.9 450.5,252.0 451.2,251.2 451.9,250.5 452.6,252.1 453.3,251.1 454.0,251.0 454.7,250.0 455.4,248.1 456.1,246.0 456.8,243.2 457.5,242.4 458.2,239.4 458.9,238.9 459.6,239.2 460.3,238.3 461.0,237.7 461.7,238.0 462.4,238.0 463.1,238.1 463.8,238.5 464.5,238.4 465.2,239.4 465.9,238.1 466.6,240.4 467.3,240.2 468.0,242.2 468.7,241.0 469.4,242.3 470.1,241.9 470.8,242.5 471.5,244.5 472.2,245.2 472.9,246.3 473.6,246.1 474.3,247.7 475.0,249.4 475.7,250.1 476.4,248.3 477.1,247.6 477.8,248.5 478.5,250.2 479.2,249.9 479.9,253.1 480.6,252.8 481.3,254.5 482.0,251.9 482.7,249.7 483.4,249.5 484.1,249.1 484.8,245.2 485.5,244.5 486.2,239.6 486.9,239.9 487.6,240.1" fill="none" stroke="#7fcdbb" stroke-width="1.9" stroke-linejoin="round" />
<polyline points="310.5,253.2 311.2,251.9 311.9,253.3 312.6,251.8 313.3,252.2 314.0,250.1 314.7,252.0 315.4,251.2 316.1,249.1 316.8,247.1 317.5,249.2 318.2,250.4 318.9,248.7 319.6,246.7 320.3,249.1 321.0,249.6 321.7,247.7 322.4,245.2 323.1,246.4 323.8,247.6 324.5,245.3 325.2,244.4 325.9,246.1 326.6,246.3 327.3,246.7 328.0,245.2 328.7,242.4 329.4,243.6 330.1,243.1 330.8,242.9 331.5,240.6 332.2,239.5 332.9,242.0 333.6,243.3 334.3,241.0 335.0,240.5 335.7,241.1 336.4,244.1 337.1,244.3 337.8,244.5 338.5,246.3 339.2,249.0 339.9,248.3 340.6,246.5 341.3,246.7 342.0,248.2 342.7,250.0 343.4,251.0 344.1,251.3 344.8,252.5 345.5,252.4 346.2,252.2 346.9,251.6 347.6,253.1 348.3,254.5 349.0,253.3 349.7,251.7 350.4,252.2 351.1,250.8 351.8,250.4 352.5,250.6 353.2,253.2 353.9,251.0 354.6,251.7 355.3,250.1 356.0,250.6 356.7,253.1 357.4,253.4 358.1,251.8 358.8,250.1 359.5,249.3 360.2,250.1 360.9,249.2 361.6,246.7 362.3,243.2 363.0,243.2 363.7,243.0 364.4,242.4 365.1,240.5 365.8,239.0 366.5,236.5 367.2,238.0 367.9,235.4 368.6,231.8 369.3,232.8 370.0,231.2 370.7,230.4 371.4,229.0 372.1,227.2 372.8,229.3 373.5,230.9 374.2,231.5 374.9,234.2 375.6,232.5 376.3,234.7 377.0,234.6 377.7,233.4 378.4,236.6 379.1,239.0 379.8,240.7 380.5,240.5 381.2,241.4 381.9,241.7 382.6,242.5 383.3,242.7 384.0,242.9 384.7,245.3 385.4,247.9 386.1,248.9 386.8,250.7 387.5,253.7 388.2,254.2 388.9,253.6 389.6,257.0 390.3,256.6 391.0,257.6 391.7,262.0 392.4,266.2 393.1,268.9 393.8,269.9 394.5,269.8 395.2,268.8 395.9,271.2 396.6,271.7 397.3,270.5 398.0,273.2 398.7,274.2 399.4,275.7 400.1,274.0 400.8,273.4 401.5,273.6 402.2,272.6 402.9,272.2 403.6,274.5 404.3,275.1 405.0,275.7 405.7,275.4 406.4,274.8 407.1,272.2 407.8,274.1 408.5,272.4 409.2,273.4 409.9,274.0 410.6,272.3 411.3,273.4 412.0,271.0 412.7,269.6 413.4,271.2 414.1,269.6 414.8,269.3 415.5,269.3 416.2,268.6 416.9,269.4 417.6,269.6 418.3,267.5 419.0,265.7 419.7,266.0 420.4,267.4 421.1,264.7 421.8,265.0 422.5,263.0 423.2,263.5 423.9,259.4 424.6,257.5 425.3,258.5 426.0,259.4 426.7,259.4 427.4,259.0 428.1,256.5 428.8,256.4 429.5,254.0 430.2,254.5 430.9,254.4 431.6,252.4 432.3,251.4 433.0,253.2 433.7,252.2 434.4,251.8 435.1,251.9 435.8,251.8 436.5,251.5 437.2,248.2 437.9,248.0 438.6,245.6 439.3,245.1 440.0,245.5 440.7,243.9 441.4,242.4 442.1,242.6 442.8,242.1 443.5,239.2 444.2,236.5 444.9,237.3 445.6,239.4 446.3,250.5 447.0,252.8 447.7,252.4 448.4,254.7 449.1,254.6 449.8,252.6 450.5,250.2 451.2,251.0 451.9,250.2 452.6,247.9 453.3,250.1 454.0,247.6 454.7,249.1 455.4,248.8 456.1,249.5 456.8,247.9 457.5,250.4 458.2,252.3 458.9,249.4 459.6,249.5 460.3,250.6 461.0,250.4 461.7,251.1 462.4,249.6 463.1,247.7 463.8,249.1 464.5,246.9 465.2,247.2 465.9,246.1 466.6,244.2 467.3,245.3 468.0,244.9 468.7,242.8 469.4,244.7 470.1,244.6 470.8,244.6 471.5,243.2 472.2,242.8 472.9,240.9 473.6,240.9 474.3,241.4 475.0,241.1 475.7,240.9 476.4,240.2 477.1,238.7 477.8,237.6 478.5,237.0 479.2,239.1 479.9,236.4 480.6,235.5 481.3,233.8 482.0,234.0 482.7,235.5 483.4,234.6 484.1,237.9 484.8,238.3 485.5,238.7 486.2,242.9 486.9,243.3 487.6,244.3" fill="none" stroke="#1d91c0" stroke-width="1.9" stroke-linejoin="round" />
<polyline points="310.5,250.1 311.2,247.7 311.9,245.9 312.6,244.8 313.3,246.5 314.0,247.5 314.7,248.4 315.4,247.7 316.1,247.5 316.8,247.8 317.5,247.6 318.2,248.2 318.9,247.4 319.6,247.1 320.3,250.8 321.0,252.8 321.7,254.7 322.4,255.0 323.1,254.8 323.8,253.2 324.5,255.4 325.2,254.9 325.9,256.4 326.6,257.3 327.3,258.4 328.0,258.8 328.7,260.1 329.4,259.4 330.1,260.1 330.8,259.5 331.5,259.5 332.2,260.8 332.9,260.8 333.6,259.9 334.3,258.9 335.0,256.7 335.7,257.9 336.4,256.5 337.1,255.6 337.8,257.0 338.5,256.0 339.2,256.4 339.9,254.5 340.6,255.9 341.3,257.3 342.0,256.5 342.7,256.9 343.4,255.9 344.1,255.9 344.8,254.7 345.5,253.5 346.2,255.3 346.9,254.9 347.6,255.8 348.3,253.8 349.0,252.6 349.7,253.2 350.4,253.8 351.1,252.1 351.8,251.6 352.5,253.6 353.2,252.5 353.9,252.5 354.6,256.0 355.3,257.8 356.0,258.4 356.7,256.4 357.4,258.2 358.1,256.6 358.8,258.3 359.5,257.9 360.2,261.1 360.9,259.4 361.6,257.7 362.3,256.6 363.0,256.6 363.7,253.2 364.4,252.9 365.1,252.4 365.8,251.4 366.5,250.9 367.2,250.3 367.9,249.2 368.6,248.5 369.3,246.8 370.0,246.7 370.7,246.4 371.4,245.5 372.1,246.3 372.8,245.9 373.5,243.5 374.2,244.7 374.9,243.1 375.6,243.0 376.3,241.0 377.0,242.0 377.7,239.6 378.4,238.6 379.1,240.8 379.8,242.0 380.5,241.2 381.2,242.5 381.9,242.6 382.6,241.6 383.3,242.2 384.0,244.7 384.7,246.7 385.4,246.3 386.1,248.6 386.8,250.5 387.5,248.8 388.2,249.2 388.9,252.3 389.6,255.0 390.3,254.5 391.0,255.2 391.7,255.4 392.4,256.2 393.1,254.9 393.8,258.1 394.5,260.2 395.2,262.1 395.9,264.1 396.6,264.7 397.3,263.1 398.0,264.6 398.7,263.3 399.4,265.7 400.1,267.5 400.8,265.5 401.5,264.3 402.2,266.8 402.9,268.4 403.6,266.7 404.3,268.5 405.0,269.2 405.7,267.1 406.4,268.3 407.1,270.4 407.8,268.9 408.5,266.7 409.2,265.5 409.9,267.1 410.6,268.7 411.3,265.9 412.0,266.1 412.7,265.2 413.4,264.4 414.1,264.6 414.8,263.7 415.5,263.0 416.2,262.8 416.9,263.4 417.6,262.6 418.3,260.5 419.0,259.5 419.7,258.0 420.4,260.4 421.1,259.8 421.8,258.1 422.5,260.3 423.2,259.6 423.9,259.8 424.6,257.9 425.3,256.0 426.0,254.8 426.7,255.6 427.4,257.0 428.1,254.8 428.8,254.4 429.5,254.2 430.2,254.7 430.9,255.7 431.6,255.2 432.3,252.4 433.0,253.6 433.7,253.0 434.4,254.4 435.1,254.4 435.8,253.9 436.5,254.4 437.2,253.9 437.9,251.1 438.6,252.6 439.3,251.8 440.0,251.2 440.7,250.4 441.4,252.5 442.1,253.2 442.8,254.1 443.5,254.8 444.2,257.0 444.9,256.4 445.6,256.4 446.3,253.5 447.0,252.1 447.7,252.4 448.4,253.9 449.1,254.2 449.8,252.8 450.5,251.0 451.2,251.0 451.9,251.9 452.6,249.6 453.3,249.9 454.0,247.4 454.7,248.0 455.4,247.1 456.1,249.1 456.8,247.2 457.5,246.2 458.2,245.4 458.9,243.0 459.6,241.9 460.3,241.6 461.0,242.2 461.7,242.8 462.4,241.7 463.1,240.8 463.8,239.1 464.5,240.2 465.2,241.1 465.9,240.4 466.6,237.7 467.3,239.3 468.0,237.9 468.7,238.3 469.4,235.3 470.1,235.3 470.8,233.4 471.5,234.1 472.2,232.4 472.9,234.3 473.6,233.8 474.3,235.0 475.0,233.4 475.7,233.6 476.4,232.2 477.1,231.6 477.8,231.3 478.5,232.4 479.2,230.8 479.9,233.3 480.6,233.0 481.3,232.8 482.0,232.0 482.7,233.6 483.4,233.1 484.1,231.2 484.8,231.0 485.5,229.9 486.2,231.6 486.9,230.7 487.6,231.5" fill="none" stroke="#1c2d8a" stroke-width="2.0" stroke-linejoin="round" />
<polyline points="499.0,246.1 499.7,246.0 500.4,247.0 501.1,245.4 501.8,248.1 502.5,250.7 503.2,252.0 503.9,253.5 504.6,254.3 505.3,256.1 506.0,258.2 506.7,260.7 507.4,260.8 508.1,260.2 508.8,259.1 509.5,259.7 510.2,257.5 510.9,254.6 511.6,254.4 512.3,253.4 513.0,253.5 513.7,251.6 514.4,251.5 515.1,250.3 515.8,250.1 516.5,247.8 517.2,247.7 517.9,245.8 518.6,245.0 519.3,243.3 520.0,243.8 520.7,242.3 521.4,241.6 522.1,241.4 522.8,242.2 523.5,241.6 524.2,242.7 524.9,242.9 525.6,241.5 526.3,241.7 527.0,242.0 527.7,239.6 528.4,240.0 529.1,239.7 529.8,239.8 530.5,240.2 531.2,243.0 531.9,243.9 532.6,243.2 533.3,242.6 534.0,245.8 534.7,246.3 535.4,245.6 536.1,246.5 536.8,246.4 537.5,249.6 538.2,248.1 538.9,248.5 539.6,247.0 540.3,249.8 541.0,249.7 541.7,247.9 542.4,249.6 543.1,251.5 543.8,251.0 544.5,251.2 545.2,253.0 545.9,251.8 546.6,251.9 547.3,253.2 548.0,253.0 548.7,252.1 549.4,250.7 550.1,250.7 550.8,250.8 551.5,250.1 552.2,247.1 552.9,245.4 553.6,244.9 554.3,242.5 555.0,243.5 555.7,241.5 556.4,240.5 557.1,239.8 557.8,239.2 558.5,241.5 559.2,240.6 559.9,238.9 560.6,240.9 561.3,241.5 562.0,238.7 562.7,237.7 563.4,236.7 564.1,238.1 564.8,239.2 565.5,237.6 566.2,236.7 566.9,231.5 567.6,229.0 568.3,229.0 569.0,229.9 569.7,232.0 570.4,234.3 571.1,235.5 571.8,236.9 572.5,240.3 573.2,242.8 573.9,244.9 574.6,244.4 575.3,247.3 576.0,246.5 576.7,248.0 577.4,252.0 578.1,256.6 578.8,259.0 579.5,265.0 580.2,267.8 580.9,270.8 581.6,271.3 582.3,271.3 583.0,271.5 583.7,272.4 584.4,273.9 585.1,276.7 585.8,279.4 586.5,281.2 587.2,281.3 587.9,282.4 588.6,284.7 589.3,284.9 590.0,285.4 590.7,287.3 591.4,289.2 592.1,287.3 592.8,287.6 593.5,288.9 594.2,288.4 594.9,290.8 595.6,292.4 596.3,291.8 597.0,291.1 597.7,287.9 598.4,285.4 599.1,282.7 599.8,282.1 600.5,280.7 601.2,278.0 601.9,278.4 602.6,276.7 603.3,276.6 604.0,277.3 604.7,274.4 605.4,274.7 606.1,275.1 606.8,273.9 607.5,270.3 608.2,267.7 608.9,263.8 609.6,260.9 610.3,258.8 611.0,256.4 611.7,257.6 612.4,255.9 613.1,257.4 613.8,258.4 614.5,259.4 615.2,259.3 615.9,258.0 616.6,257.2 617.3,257.7 618.0,256.9 618.7,255.6 619.4,254.3 620.1,254.0 620.8,254.3 621.5,255.2 622.2,253.9 622.9,252.5 623.6,252.4 624.3,249.9 625.0,249.4 625.7,251.2 626.4,248.7 627.1,248.6 627.8,247.8 628.5,247.3 629.2,246.0 629.9,245.0 630.6,244.3 631.3,245.1 632.0,245.3 632.7,245.6 633.4,244.9 634.1,244.9 634.8,245.5 635.5,245.9 636.2,247.8 636.9,248.4 637.6,253.8 638.3,256.6 639.0,260.2 639.7,261.7 640.4,259.3 641.1,261.0 641.8,258.8 642.5,261.0 643.2,262.4 643.9,260.2 644.6,261.8 645.3,260.9 646.0,263.1 646.7,263.9 647.4,265.4 648.1,263.5 648.8,263.1 649.5,263.4 650.2,261.7 650.9,262.4 651.6,261.6 652.3,260.5 653.0,258.4 653.7,257.1 654.4,257.8 655.1,255.8 655.8,254.4 656.5,253.3 657.2,255.1 657.9,254.9 658.6,252.0 659.3,250.0 660.0,247.8 660.7,245.7 661.4,247.1 662.1,243.2 662.8,241.8 663.5,240.4 664.2,238.0 664.9,236.1 665.6,234.5 666.3,233.6 667.0,233.6 667.7,235.5 668.4,237.3 669.1,237.2 669.8,238.5 670.5,239.7 671.2,241.6 671.9,244.3 672.6,247.3 673.3,247.0 674.0,247.4 674.7,248.0 675.4,250.0 676.1,249.1" fill="none" stroke="#7fcdbb" stroke-width="1.9" stroke-linejoin="round" />
<polyline points="499.0,240.0 499.7,239.4 500.4,240.8 501.1,241.2 501.8,243.2 502.5,243.7 503.2,246.2 503.9,247.9 504.6,247.9 505.3,249.5 506.0,246.7 506.7,248.7 507.4,246.7 508.1,243.9 508.8,242.8 509.5,241.7 510.2,239.1 510.9,240.4 511.6,240.6 512.3,240.7 513.0,241.0 513.7,242.3 514.4,241.3 515.1,241.3 515.8,243.0 516.5,243.7 517.2,241.3 517.9,240.1 518.6,242.7 519.3,242.8 520.0,240.5 520.7,240.1 521.4,240.4 522.1,240.7 522.8,240.1 523.5,239.8 524.2,240.5 524.9,242.1 525.6,241.8 526.3,242.5 527.0,238.9 527.7,238.3 528.4,240.4 529.1,240.1 529.8,238.9 530.5,238.2 531.2,240.6 531.9,242.7 532.6,242.9 533.3,244.0 534.0,245.0 534.7,246.0 535.4,245.6 536.1,247.1 536.8,247.0 537.5,248.1 538.2,248.6 538.9,246.6 539.6,246.9 540.3,247.0 541.0,246.3 541.7,247.2 542.4,250.8 543.1,250.6 543.8,249.9 544.5,251.3 545.2,253.2 545.9,255.2 546.6,254.5 547.3,255.6 548.0,254.9 548.7,257.5 549.4,256.7 550.1,257.6 550.8,258.4 551.5,257.9 552.2,256.6 552.9,256.8 553.6,256.2 554.3,256.2 555.0,257.2 555.7,255.0 556.4,253.8 557.1,252.9 557.8,253.1 558.5,254.6 559.2,253.2 559.9,253.4 560.6,255.3 561.3,252.7 562.0,250.5 562.7,248.7 563.4,249.9 564.1,247.1 564.8,246.4 565.5,246.8 566.2,245.8 566.9,245.3 567.6,245.3 568.3,243.0 569.0,243.8 569.7,243.5 570.4,243.9 571.1,241.4 571.8,240.6 572.5,238.8 573.2,240.4 573.9,241.1 574.6,245.0 575.3,246.6 576.0,251.0 576.7,251.7 577.4,252.1 578.1,253.0 578.8,255.3 579.5,255.6 580.2,259.0 580.9,260.8 581.6,260.8 582.3,264.1 583.0,264.0 583.7,267.0 584.4,267.7 585.1,268.1 585.8,270.1 586.5,270.6 587.2,271.6 587.9,272.8 588.6,275.5 589.3,277.7 590.0,277.5 590.7,278.0 591.4,279.3 592.1,279.8 592.8,279.1 593.5,281.4 594.2,280.6 594.9,281.3 595.6,282.1 596.3,280.8 597.0,280.7 597.7,277.0 598.4,275.3 599.1,275.0 599.8,274.0 600.5,272.7 601.2,273.6 601.9,273.4 602.6,270.9 603.3,269.7 604.0,267.8 604.7,263.0 605.4,258.0 606.1,254.9 606.8,255.3 607.5,253.5 608.2,249.3 608.9,250.0 609.6,250.6 610.3,250.4 611.0,250.0 611.7,249.1 612.4,245.3 613.1,244.5 613.8,241.4 614.5,242.2 615.2,242.7 615.9,243.5 616.6,243.8 617.3,244.6 618.0,241.5 618.7,243.0 619.4,244.1 620.1,242.9 620.8,242.3 621.5,241.1 622.2,241.3 622.9,240.9 623.6,242.7 624.3,242.1 625.0,241.4 625.7,244.2 626.4,241.9 627.1,243.1 627.8,241.3 628.5,242.8 629.2,242.1 629.9,240.8 630.6,240.4 631.3,240.3 632.0,242.2 632.7,243.3 633.4,243.2 634.1,244.0 634.8,243.9 635.5,243.1 636.2,241.1 636.9,242.3 637.6,244.2 638.3,245.1 639.0,243.8 639.7,245.0 640.4,247.7 641.1,246.9 641.8,248.3 642.5,249.6 643.2,252.3 643.9,252.0 644.6,251.6 645.3,254.2 646.0,253.5 646.7,254.6 647.4,255.2 648.1,256.4 648.8,256.1 649.5,256.1 650.2,258.6 650.9,258.2 651.6,257.5 652.3,256.9 653.0,258.8 653.7,257.9 654.4,256.7 655.1,256.8 655.8,253.3 656.5,254.0 657.2,252.4 657.9,250.0 658.6,251.2 659.3,249.5 660.0,248.2 660.7,249.2 661.4,249.0 662.1,250.5 662.8,252.3 663.5,253.2 664.2,255.9 664.9,254.9 665.6,257.0 666.3,256.9 667.0,257.4 667.7,257.7 668.4,258.2 669.1,259.1 669.8,260.8 670.5,263.1 671.2,263.7 671.9,264.7 672.6,265.0 673.3,262.5 674.0,261.8 674.7,261.9 675.4,261.3 676.1,260.5" fill="none" stroke="#1d91c0" stroke-width="1.9" stroke-linejoin="round" />
<polyline points="499.0,235.2 499.7,233.6 500.4,232.8 501.1,233.7 501.8,236.1 502.5,235.6 503.2,238.0 503.9,238.1 504.6,237.8 505.3,238.0 506.0,238.0 506.7,237.9 507.4,239.2 508.1,239.5 508.8,239.1 509.5,237.0 510.2,237.0 510.9,236.8 511.6,239.6 512.3,241.2 513.0,239.7 513.7,240.6 514.4,238.3 515.1,240.5 515.8,238.4 516.5,240.6 517.2,240.8 517.9,241.9 518.6,242.7 519.3,244.2 520.0,246.3 520.7,250.5 521.4,257.5 522.1,261.2 522.8,260.3 523.5,262.8 524.2,262.8 524.9,264.0 525.6,268.7 526.3,270.3 527.0,267.8 527.7,266.9 528.4,262.5 529.1,258.6 529.8,257.6 530.5,254.1 531.2,251.1 531.9,253.0 532.6,252.5 533.3,252.4 534.0,251.8 534.7,249.6 535.4,245.7 536.1,243.7 536.8,245.5 537.5,245.2 538.2,243.8 538.9,245.5 539.6,246.8 540.3,244.6 541.0,245.3 541.7,247.3 542.4,244.9 543.1,246.4 543.8,245.7 544.5,246.8 545.2,244.7 545.9,246.2 546.6,246.9 547.3,248.2 548.0,253.0 548.7,253.0 549.4,253.6 550.1,256.6 550.8,255.2 551.5,257.9 552.2,257.3 552.9,258.1 553.6,258.5 554.3,257.5 555.0,257.2 555.7,256.6 556.4,254.9 557.1,254.0 557.8,253.8 558.5,250.4 559.2,248.2 559.9,248.4 560.6,249.2 561.3,247.4 562.0,245.3 562.7,243.1 563.4,244.4 564.1,244.0 564.8,241.3 565.5,240.4 566.2,238.7 566.9,238.0 567.6,234.5 568.3,229.8 569.0,228.4 569.7,229.4 570.4,228.8 571.1,230.6 571.8,229.7 572.5,231.2 573.2,232.4 573.9,234.0 574.6,236.6 575.3,236.6 576.0,236.1 576.7,237.9 577.4,238.9 578.1,238.7 578.8,241.5 579.5,241.0 580.2,245.5 580.9,249.5 581.6,251.5 582.3,254.1 583.0,256.0 583.7,256.1 584.4,257.9 585.1,257.5 585.8,258.2 586.5,261.7 587.2,262.3 587.9,266.5 588.6,267.3 589.3,268.7 590.0,269.9 590.7,268.0 591.4,267.6 592.1,270.2 592.8,269.2 593.5,271.1 594.2,270.0 594.9,272.5 595.6,272.3 596.3,271.8 597.0,270.7 597.7,269.7 598.4,269.8 599.1,267.0 599.8,269.1 600.5,270.2 601.2,267.5 601.9,264.6 602.6,265.1 603.3,265.2 604.0,264.0 604.7,263.0 605.4,262.6 606.1,262.1 606.8,258.6 607.5,259.2 608.2,258.7 608.9,258.9 609.6,257.7 610.3,254.9 611.0,253.4 611.7,250.2 612.4,247.4 613.1,247.2 613.8,246.1 614.5,243.7 615.2,242.3 615.9,244.1 616.6,242.4 617.3,242.0 618.0,242.7 618.7,241.4 619.4,241.8 620.1,242.4 620.8,240.3 621.5,239.7 622.2,240.8 622.9,241.0 623.6,240.9 624.3,241.6 625.0,242.9 625.7,242.7 626.4,241.7 627.1,241.3 627.8,244.1 628.5,245.7 629.2,244.8 629.9,244.7 630.6,246.8 631.3,248.0 632.0,248.4 632.7,249.1 633.4,253.5 634.1,256.8 634.8,257.7 635.5,257.8 636.2,260.1 636.9,259.9 637.6,256.9 638.3,254.2 639.0,255.4 639.7,252.9 640.4,250.8 641.1,252.2 641.8,250.5 642.5,250.7 643.2,251.9 643.9,250.4 644.6,248.3 645.3,249.5 646.0,248.8 646.7,246.4 647.4,248.5 648.1,249.0 648.8,247.2 649.5,246.1 650.2,249.3 650.9,247.6 651.6,250.4 652.3,252.9 653.0,252.1 653.7,251.6 654.4,251.7 655.1,253.7 655.8,254.8 656.5,255.8 657.2,255.1 657.9,255.1 658.6,256.5 659.3,257.1 660.0,257.2 660.7,256.8 661.4,256.4 662.1,257.3 662.8,258.6 663.5,258.3 664.2,257.1 664.9,256.5 665.6,253.9 666.3,252.1 667.0,252.9 667.7,252.2 668.4,251.5 669.1,253.4 669.8,254.2 670.5,252.3 671.2,250.3 671.9,252.8 672.6,253.6 673.3,254.3 674.0,254.2 674.7,252.3 675.4,253.5 676.1,254.4" fill="none" stroke="#1c2d8a" stroke-width="2.0" stroke-linejoin="round" />
<text x="267.6" y="351.2" font-size="16" text-anchor="start" fill="#111" font-weight="bold" font-style="normal" >f</text>
<line x1="314.2" y1="348" x2="314.2" y2="484.4" stroke="#222" stroke-width="1.6" />
<line x1="313.4" y1="483.6" x2="418.5" y2="483.6" stroke="#222" stroke-width="1.6" />
<line x1="310.8" y1="374.7" x2="314.2" y2="374.7" stroke="#222" stroke-width="1.4" />
<text x="309.3" y="379.5" font-size="13.5" text-anchor="end" fill="#333" font-weight="normal" font-style="normal" >0</text>
<line x1="310.8" y1="409.4" x2="314.2" y2="409.4" stroke="#222" stroke-width="1.4" />
<text x="309.3" y="414.2" font-size="13.5" text-anchor="end" fill="#333" font-weight="normal" font-style="normal" >-0.2</text>
<line x1="310.8" y1="444.1" x2="314.2" y2="444.1" stroke="#222" stroke-width="1.4" />
<text x="309.3" y="448.90000000000003" font-size="13.5" text-anchor="end" fill="#333" font-weight="normal" font-style="normal" >-0.4</text>
<line x1="310.8" y1="478.8" x2="314.2" y2="478.8" stroke="#222" stroke-width="1.4" />
<text x="309.3" y="483.6" font-size="13.5" text-anchor="end" fill="#333" font-weight="normal" font-style="normal" >-0.6</text>
<line x1="311.5" y1="357.4" x2="314.2" y2="357.4" stroke="#222" stroke-width="1.2" />
<line x1="311.5" y1="392.0" x2="314.2" y2="392.0" stroke="#222" stroke-width="1.2" />
<line x1="311.5" y1="426.8" x2="314.2" y2="426.8" stroke="#222" stroke-width="1.2" />
<line x1="311.5" y1="461.5" x2="314.2" y2="461.5" stroke="#222" stroke-width="1.2" />
<line x1="314.1" y1="483.6" x2="314.1" y2="480.8" stroke="#222" stroke-width="1.4" />
<text x="314.1" y="499.5" font-size="13.5" text-anchor="middle" fill="#333" font-weight="normal" font-style="normal" >0</text>
<line x1="366" y1="483.6" x2="366" y2="480.8" stroke="#222" stroke-width="1.4" />
<text x="366" y="499.5" font-size="13.5" text-anchor="middle" fill="#333" font-weight="normal" font-style="normal" >0.48</text>
<line x1="417.7" y1="483.6" x2="417.7" y2="480.8" stroke="#222" stroke-width="1.4" />
<text x="417.7" y="499.5" font-size="13.5" text-anchor="middle" fill="#333" font-weight="normal" font-style="normal" >0.96</text>
<line x1="339.2" y1="483.6" x2="339.2" y2="481.2" stroke="#222" stroke-width="1.2" />
<line x1="391.5" y1="483.6" x2="391.5" y2="481.2" stroke="#222" stroke-width="1.2" />
<text transform="translate(282.5,415) rotate(-90)" font-size="14" text-anchor="middle" fill="#222">Norm imps/s</text>
<path d="M321.10,348.00 C321.95,349.69 323.95,351.28 323.95,352.85 A2.85,2.85 0 0 1 318.25,352.85 C318.25,351.28 320.25,349.69 321.10,348.00 Z" fill="#7232a6"/>
<text x="328" y="357.2" font-size="13" text-anchor="start" fill="#111" font-weight="normal" font-style="normal" >Low</text>
<rect x="316.9" y="360.2" width="9.3" height="8.7" fill="#fd8d3c" />
<text x="327.1" y="369.3" font-size="14" text-anchor="start" fill="#111" font-weight="normal" font-style="normal" >Mk. U</text>
<rect x="316.9" y="372.0" width="9.3" height="9.5" fill="#d9620f" />
<text x="327.1" y="381.5" font-size="14" text-anchor="start" fill="#111" font-weight="normal" font-style="normal" >Mk. V</text>
<line x1="316.9" y1="430.1" x2="316.9" y2="456.0" stroke="#fd8d3c" stroke-width="1.7" />
<line x1="322.4" y1="431.3" x2="322.4" y2="458.4" stroke="#fd8d3c" stroke-width="1.7" />
<line x1="327.5" y1="428.8" x2="327.5" y2="456.0" stroke="#fd8d3c" stroke-width="1.7" />
<line x1="332.5" y1="405.4" x2="332.5" y2="431.3" stroke="#fd8d3c" stroke-width="1.7" />
<line x1="337.4" y1="436.2" x2="337.4" y2="460.9" stroke="#fd8d3c" stroke-width="1.7" />
<line x1="342.8" y1="396.8" x2="342.8" y2="421.4" stroke="#fd8d3c" stroke-width="1.7" />
<line x1="347.8" y1="414.1" x2="347.8" y2="443.6" stroke="#fd8d3c" stroke-width="1.7" />
<line x1="353.2" y1="443.6" x2="353.2" y2="460.9" stroke="#fd8d3c" stroke-width="1.7" />
<line x1="358.1" y1="404.2" x2="358.1" y2="432.5" stroke="#fd8d3c" stroke-width="1.7" />
<line x1="363.3" y1="404.2" x2="363.3" y2="435.0" stroke="#fd8d3c" stroke-width="1.7" />
<line x1="368.7" y1="431.3" x2="368.7" y2="459.7" stroke="#fd8d3c" stroke-width="1.7" />
<line x1="373.7" y1="428.8" x2="373.7" y2="458.4" stroke="#fd8d3c" stroke-width="1.7" />
<line x1="379.1" y1="405.4" x2="379.1" y2="439.9" stroke="#fd8d3c" stroke-width="1.7" />
<line x1="384.3" y1="379.5" x2="384.3" y2="426.4" stroke="#fd8d3c" stroke-width="1.7" />
<line x1="389.2" y1="379.5" x2="389.2" y2="423.9" stroke="#fd8d3c" stroke-width="1.7" />
<line x1="394.6" y1="369.7" x2="394.6" y2="419.0" stroke="#fd8d3c" stroke-width="1.7" />
<line x1="399.5" y1="393.1" x2="399.5" y2="467.1" stroke="#fd8d3c" stroke-width="1.7" />
<line x1="415.1" y1="348.7" x2="415.1" y2="425.1" stroke="#fd8d3c" stroke-width="1.7" />
<circle cx="316.9" cy="443.6" r="2.5" fill="#fd8d3c"/>
<circle cx="322.4" cy="445.6" r="2.5" fill="#fd8d3c"/>
<circle cx="327.5" cy="442.9" r="2.5" fill="#fd8d3c"/>
<circle cx="332.5" cy="419.0" r="2.5" fill="#fd8d3c"/>
<circle cx="337.4" cy="449.1" r="2.5" fill="#fd8d3c"/>
<circle cx="342.8" cy="409.9" r="2.5" fill="#fd8d3c"/>
<circle cx="347.8" cy="428.8" r="2.5" fill="#fd8d3c"/>
<circle cx="353.2" cy="452.8" r="2.5" fill="#fd8d3c"/>
<circle cx="358.1" cy="419.0" r="2.5" fill="#fd8d3c"/>
<circle cx="363.3" cy="419.7" r="2.5" fill="#fd8d3c"/>
<circle cx="368.7" cy="444.9" r="2.5" fill="#fd8d3c"/>
<circle cx="373.7" cy="442.4" r="2.5" fill="#fd8d3c"/>
<circle cx="379.1" cy="422.7" r="2.5" fill="#fd8d3c"/>
<circle cx="384.3" cy="404.7" r="2.5" fill="#fd8d3c"/>
<circle cx="389.2" cy="403.0" r="2.5" fill="#fd8d3c"/>
<circle cx="394.6" cy="394.3" r="2.5" fill="#fd8d3c"/>
<circle cx="399.5" cy="430.1" r="2.5" fill="#fd8d3c"/>
<circle cx="415.1" cy="387.4" r="2.5" fill="#fd8d3c"/>
<line x1="316.9" y1="444.9" x2="415.1" y2="401.7" stroke="#fd8d3c" stroke-width="2.2" />
<line x1="321.9" y1="408.6" x2="321.9" y2="451.0" stroke="#d9620f" stroke-width="1.7" />
<line x1="327.5" y1="421.9" x2="327.5" y2="448.6" stroke="#d9620f" stroke-width="1.7" />
<line x1="332.5" y1="406.2" x2="332.5" y2="443.6" stroke="#d9620f" stroke-width="1.7" />
<line x1="337.4" y1="421.4" x2="337.4" y2="448.6" stroke="#d9620f" stroke-width="1.7" />
<line x1="342.8" y1="426.4" x2="342.8" y2="451.0" stroke="#d9620f" stroke-width="1.7" />
<line x1="347.8" y1="403.7" x2="347.8" y2="430.1" stroke="#d9620f" stroke-width="1.7" />
<line x1="353.2" y1="414.1" x2="353.2" y2="441.2" stroke="#d9620f" stroke-width="1.7" />
<line x1="358.1" y1="416.5" x2="358.1" y2="443.6" stroke="#d9620f" stroke-width="1.7" />
<line x1="363.3" y1="406.7" x2="363.3" y2="431.3" stroke="#d9620f" stroke-width="1.7" />
<line x1="368.7" y1="390.6" x2="368.7" y2="426.4" stroke="#d9620f" stroke-width="1.7" />
<line x1="373.7" y1="414.1" x2="373.7" y2="444.9" stroke="#d9620f" stroke-width="1.7" />
<line x1="379.1" y1="394.3" x2="379.1" y2="431.3" stroke="#d9620f" stroke-width="1.7" />
<line x1="394.6" y1="361.0" x2="394.6" y2="423.9" stroke="#d9620f" stroke-width="1.7" />
<circle cx="321.9" cy="429.6" r="2.5" fill="#d9620f"/>
<circle cx="327.5" cy="435.5" r="2.5" fill="#d9620f"/>
<circle cx="332.5" cy="426.9" r="2.5" fill="#d9620f"/>
<circle cx="337.4" cy="433.8" r="2.5" fill="#d9620f"/>
<circle cx="342.8" cy="439.2" r="2.5" fill="#d9620f"/>
<circle cx="347.8" cy="416.5" r="2.5" fill="#d9620f"/>
<circle cx="353.2" cy="427.6" r="2.5" fill="#d9620f"/>
<circle cx="358.1" cy="430.1" r="2.5" fill="#d9620f"/>
<circle cx="363.3" cy="419.0" r="2.5" fill="#d9620f"/>
<circle cx="368.7" cy="408.6" r="2.5" fill="#d9620f"/>
<circle cx="373.7" cy="428.8" r="2.5" fill="#d9620f"/>
<circle cx="379.1" cy="414.1" r="2.5" fill="#d9620f"/>
<circle cx="394.6" cy="391.9" r="2.5" fill="#d9620f"/>
<line x1="321.9" y1="439.2" x2="394.6" y2="405.4" stroke="#d9620f" stroke-width="2.2" />
<text x="427.3" y="350.7" font-size="15.8" text-anchor="start" fill="#111" font-weight="bold" font-style="normal" >g</text>
<line x1="450.2" y1="348" x2="450.2" y2="482.6" stroke="#222" stroke-width="1.6" />
<line x1="449.4" y1="481.8" x2="562.5" y2="481.8" stroke="#222" stroke-width="1.6" />
<line x1="446.8" y1="372.2" x2="450.2" y2="372.2" stroke="#222" stroke-width="1.4" />
<text x="445.3" y="377.0" font-size="13.5" text-anchor="end" fill="#333" font-weight="normal" font-style="normal" >0.4</text>
<line x1="446.8" y1="419.5" x2="450.2" y2="419.5" stroke="#222" stroke-width="1.4" />
<text x="445.3" y="424.3" font-size="13.5" text-anchor="end" fill="#333" font-weight="normal" font-style="normal" >0</text>
<line x1="446.8" y1="467.8" x2="450.2" y2="467.8" stroke="#222" stroke-width="1.4" />
<text x="445.3" y="472.6" font-size="13.5" text-anchor="end" fill="#333" font-weight="normal" font-style="normal" >-0.4</text>
<line x1="447.5" y1="395.8" x2="450.2" y2="395.8" stroke="#222" stroke-width="1.2" />
<line x1="447.5" y1="443.6" x2="450.2" y2="443.6" stroke="#222" stroke-width="1.2" />
<line x1="457.6" y1="481.8" x2="457.6" y2="479.0" stroke="#222" stroke-width="1.4" />
<text x="457.6" y="499.5" font-size="13.5" text-anchor="middle" fill="#333" font-weight="normal" font-style="normal" >0.24</text>
<line x1="509.5" y1="481.8" x2="509.5" y2="479.0" stroke="#222" stroke-width="1.4" />
<text x="509.5" y="499.5" font-size="13.5" text-anchor="middle" fill="#333" font-weight="normal" font-style="normal" >0.72</text>
<line x1="561.3" y1="481.8" x2="561.3" y2="479.0" stroke="#222" stroke-width="1.4" />
<text x="561.3" y="499.5" font-size="13.5" text-anchor="middle" fill="#333" font-weight="normal" font-style="normal" >1.2</text>
<line x1="483.5" y1="481.8" x2="483.5" y2="479.4" stroke="#222" stroke-width="1.2" />
<line x1="535.4" y1="481.8" x2="535.4" y2="479.4" stroke="#222" stroke-width="1.2" />
<path d="M458.40,346.90 C459.53,349.14 462.17,351.25 462.17,353.33 A3.77,3.77 0 0 1 454.63,353.33 C454.63,351.25 457.27,349.14 458.40,346.90 Z" fill="#7232a6"/>
<path d="M456.30,351.85 A2.57,2.57 0 0 0 457.12,355.55" fill="none" stroke="#ffffff" stroke-opacity="0.85" stroke-width="0.61"/>
<text x="465.4" y="357.5" font-size="13" text-anchor="start" fill="#111" font-weight="normal" font-style="normal" >Med</text>
<rect x="453.7" y="360.1" width="9.8" height="8.6" fill="#d7300f" />
<text x="465" y="369" font-size="14" text-anchor="start" fill="#111" font-weight="normal" font-style="normal" >Mk. U</text>
<rect x="453.7" y="372.2" width="9.8" height="9.4" fill="#fc5a35" />
<text x="465" y="381.5" font-size="14" text-anchor="start" fill="#111" font-weight="normal" font-style="normal" >Mk. V</text>
<line x1="470.5" y1="446.5" x2="470.5" y2="475.0" stroke="#fc5a35" stroke-width="1.7" />
<line x1="475.7" y1="437.4" x2="475.7" y2="462.5" stroke="#fc5a35" stroke-width="1.7" />
<line x1="481.2" y1="442.0" x2="481.2" y2="467.0" stroke="#fc5a35" stroke-width="1.7" />
<line x1="486.4" y1="436.3" x2="486.4" y2="463.6" stroke="#fc5a35" stroke-width="1.7" />
<line x1="491.4" y1="435.2" x2="491.4" y2="457.9" stroke="#fc5a35" stroke-width="1.7" />
<line x1="496.7" y1="422.6" x2="496.7" y2="446.5" stroke="#fc5a35" stroke-width="1.7" />
<line x1="501.9" y1="426.0" x2="501.9" y2="450.0" stroke="#fc5a35" stroke-width="1.7" />
<line x1="506.9" y1="428.3" x2="506.9" y2="450.0" stroke="#fc5a35" stroke-width="1.7" />
<line x1="511.9" y1="421.5" x2="511.9" y2="445.4" stroke="#fc5a35" stroke-width="1.7" />
<line x1="522.4" y1="419.2" x2="522.4" y2="443.1" stroke="#fc5a35" stroke-width="1.7" />
<line x1="527.9" y1="416.5" x2="527.9" y2="440.2" stroke="#fc5a35" stroke-width="1.7" />
<line x1="532.7" y1="423.8" x2="532.7" y2="447.7" stroke="#fc5a35" stroke-width="1.7" />
<line x1="538.1" y1="415.8" x2="538.1" y2="438.6" stroke="#fc5a35" stroke-width="1.7" />
<line x1="543.4" y1="406.7" x2="543.4" y2="431.7" stroke="#fc5a35" stroke-width="1.7" />
<line x1="548.4" y1="407.8" x2="548.4" y2="432.4" stroke="#fc5a35" stroke-width="1.7" />
<line x1="553.6" y1="403.3" x2="553.6" y2="428.3" stroke="#fc5a35" stroke-width="1.7" />
<line x1="558.9" y1="396.4" x2="558.9" y2="428.3" stroke="#fc5a35" stroke-width="1.7" />
<circle cx="470.5" cy="459.5" r="2.5" fill="#fc5a35"/>
<circle cx="475.7" cy="449.3" r="2.5" fill="#fc5a35"/>
<circle cx="481.2" cy="453.8" r="2.5" fill="#fc5a35"/>
<circle cx="486.4" cy="449.3" r="2.5" fill="#fc5a35"/>
<circle cx="491.4" cy="446.1" r="2.5" fill="#fc5a35"/>
<circle cx="496.7" cy="434.0" r="2.5" fill="#fc5a35"/>
<circle cx="501.9" cy="437.4" r="2.5" fill="#fc5a35"/>
<circle cx="506.9" cy="438.6" r="2.5" fill="#fc5a35"/>
<circle cx="511.9" cy="433.3" r="2.5" fill="#fc5a35"/>
<circle cx="522.4" cy="431.1" r="2.5" fill="#fc5a35"/>
<circle cx="527.9" cy="428.3" r="2.5" fill="#fc5a35"/>
<circle cx="532.7" cy="435.2" r="2.5" fill="#fc5a35"/>
<circle cx="538.1" cy="427.2" r="2.5" fill="#fc5a35"/>
<circle cx="543.4" cy="419.2" r="2.5" fill="#fc5a35"/>
<circle cx="548.4" cy="419.7" r="2.5" fill="#fc5a35"/>
<circle cx="553.6" cy="415.8" r="2.5" fill="#fc5a35"/>
<circle cx="558.9" cy="412.4" r="2.5" fill="#fc5a35"/>
<line x1="470.5" y1="450.6" x2="558.9" y2="413.5" stroke="#fc5a35" stroke-width="2.2" />
<line x1="455.0" y1="419.2" x2="455.0" y2="458.4" stroke="#d7300f" stroke-width="1.7" />
<line x1="460.2" y1="446.5" x2="460.2" y2="471.6" stroke="#d7300f" stroke-width="1.7" />
<line x1="465.5" y1="430.6" x2="465.5" y2="451.1" stroke="#d7300f" stroke-width="1.7" />
<line x1="470.5" y1="439.7" x2="470.5" y2="460.2" stroke="#d7300f" stroke-width="1.7" />
<line x1="475.7" y1="431.1" x2="475.7" y2="450.0" stroke="#d7300f" stroke-width="1.7" />
<line x1="481.2" y1="437.4" x2="481.2" y2="457.9" stroke="#d7300f" stroke-width="1.7" />
<line x1="486.4" y1="428.3" x2="486.4" y2="450.0" stroke="#d7300f" stroke-width="1.7" />
<line x1="491.4" y1="412.8" x2="491.4" y2="432.9" stroke="#d7300f" stroke-width="1.7" />
<line x1="496.7" y1="418.1" x2="496.7" y2="445.4" stroke="#d7300f" stroke-width="1.7" />
<line x1="501.9" y1="407.8" x2="501.9" y2="434.0" stroke="#d7300f" stroke-width="1.7" />
<line x1="506.9" y1="404.4" x2="506.9" y2="437.4" stroke="#d7300f" stroke-width="1.7" />
<line x1="511.9" y1="418.8" x2="511.9" y2="442.0" stroke="#d7300f" stroke-width="1.7" />
<line x1="517.2" y1="405.1" x2="517.2" y2="432.4" stroke="#d7300f" stroke-width="1.7" />
<line x1="522.4" y1="397.6" x2="522.4" y2="428.3" stroke="#d7300f" stroke-width="1.7" />
<line x1="527.9" y1="414.7" x2="527.9" y2="447.7" stroke="#d7300f" stroke-width="1.7" />
<line x1="532.7" y1="366.4" x2="532.7" y2="429.5" stroke="#d7300f" stroke-width="1.7" />
<line x1="538.1" y1="375.9" x2="538.1" y2="416.9" stroke="#d7300f" stroke-width="1.7" />
<line x1="543.4" y1="388.5" x2="543.4" y2="437.4" stroke="#d7300f" stroke-width="1.7" />
<line x1="548.4" y1="360.0" x2="548.4" y2="402.1" stroke="#d7300f" stroke-width="1.7" />
<line x1="553.6" y1="390.7" x2="553.6" y2="432.9" stroke="#d7300f" stroke-width="1.7" />
<circle cx="455.0" cy="439.0" r="2.5" fill="#d7300f"/>
<circle cx="460.2" cy="458.6" r="2.5" fill="#d7300f"/>
<circle cx="465.5" cy="441.3" r="2.5" fill="#d7300f"/>
<circle cx="470.5" cy="448.8" r="2.5" fill="#d7300f"/>
<circle cx="475.7" cy="440.8" r="2.5" fill="#d7300f"/>
<circle cx="481.2" cy="447.0" r="2.5" fill="#d7300f"/>
<circle cx="486.4" cy="438.6" r="2.5" fill="#d7300f"/>
<circle cx="491.4" cy="422.6" r="2.5" fill="#d7300f"/>
<circle cx="496.7" cy="432.4" r="2.5" fill="#d7300f"/>
<circle cx="501.9" cy="421.5" r="2.5" fill="#d7300f"/>
<circle cx="506.9" cy="421.5" r="2.5" fill="#d7300f"/>
<circle cx="511.9" cy="430.6" r="2.5" fill="#d7300f"/>
<circle cx="517.2" cy="419.2" r="2.5" fill="#d7300f"/>
<circle cx="522.4" cy="412.8" r="2.5" fill="#d7300f"/>
<circle cx="527.9" cy="429.5" r="2.5" fill="#d7300f"/>
<circle cx="532.7" cy="397.6" r="2.5" fill="#d7300f"/>
<circle cx="538.1" cy="396.4" r="2.5" fill="#d7300f"/>
<circle cx="543.4" cy="412.8" r="2.5" fill="#d7300f"/>
<circle cx="548.4" cy="381.0" r="2.5" fill="#d7300f"/>
<circle cx="553.6" cy="412.4" r="2.5" fill="#d7300f"/>
<line x1="455" y1="451.1" x2="553.6" y2="398.7" stroke="#d7300f" stroke-width="2.2" />
<text x="561.3" y="350.7" font-size="15.5" text-anchor="start" fill="#111" font-weight="bold" font-style="normal" >h</text>
<line x1="595.1" y1="348" x2="595.1" y2="483.1" stroke="#222" stroke-width="1.6" />
<line x1="594.3" y1="482.3" x2="675.8" y2="482.3" stroke="#222" stroke-width="1.6" />
<line x1="591.7" y1="365.6" x2="595.1" y2="365.6" stroke="#222" stroke-width="1.4" />
<text x="590.2" y="370.40000000000003" font-size="13.5" text-anchor="end" fill="#333" font-weight="normal" font-style="normal" >1</text>
<line x1="591.7" y1="388.6" x2="595.1" y2="388.6" stroke="#222" stroke-width="1.4" />
<text x="590.2" y="393.40000000000003" font-size="13.5" text-anchor="end" fill="#333" font-weight="normal" font-style="normal" >0.8</text>
<line x1="591.7" y1="411.6" x2="595.1" y2="411.6" stroke="#222" stroke-width="1.4" />
<text x="590.2" y="416.40000000000003" font-size="13.5" text-anchor="end" fill="#333" font-weight="normal" font-style="normal" >0.6</text>
<line x1="591.7" y1="434.1" x2="595.1" y2="434.1" stroke="#222" stroke-width="1.4" />
<text x="590.2" y="438.90000000000003" font-size="13.5" text-anchor="end" fill="#333" font-weight="normal" font-style="normal" >0.4</text>
<line x1="591.7" y1="457.0" x2="595.1" y2="457.0" stroke="#222" stroke-width="1.4" />
<text x="590.2" y="461.8" font-size="13.5" text-anchor="end" fill="#333" font-weight="normal" font-style="normal" >0.2</text>
<line x1="591.7" y1="480.0" x2="595.1" y2="480.0" stroke="#222" stroke-width="1.4" />
<text x="590.2" y="484.8" font-size="13.5" text-anchor="end" fill="#333" font-weight="normal" font-style="normal" >0</text>
<line x1="623.7" y1="482.3" x2="623.7" y2="479.5" stroke="#222" stroke-width="1.4" />
<text x="623.7" y="499.5" font-size="13.5" text-anchor="middle" fill="#333" font-weight="normal" font-style="normal" >0.72</text>
<line x1="674.5" y1="482.3" x2="674.5" y2="479.5" stroke="#222" stroke-width="1.4" />
<text x="674.5" y="499.5" font-size="13.5" text-anchor="middle" fill="#333" font-weight="normal" font-style="normal" >1.2</text>
<line x1="598.2" y1="482.3" x2="598.2" y2="479.9" stroke="#222" stroke-width="1.2" />
<line x1="649.7" y1="482.3" x2="649.7" y2="479.9" stroke="#222" stroke-width="1.2" />
<path d="M602.50,343.40 C604.11,346.59 607.87,349.58 607.87,352.53 A5.37,5.37 0 0 1 597.13,352.53 C597.13,349.58 600.89,346.59 602.50,343.40 Z" fill="#7232a6"/>
<path d="M599.51,350.44 A3.65,3.65 0 0 0 600.68,355.69" fill="none" stroke="#ffffff" stroke-opacity="0.85" stroke-width="0.87"/>
<text x="609.1" y="357.9" font-size="13.5" text-anchor="start" fill="#111" font-weight="normal" font-style="normal" >High</text>
<rect x="598.3" y="361" width="8.4" height="8.2" fill="#8b0a28" />
<text x="607.9" y="370" font-size="14" text-anchor="start" fill="#111" font-weight="normal" font-style="normal" >Mk. U</text>
<rect x="598.3" y="372.3" width="8.4" height="8.5" fill="#c51f42" />
<text x="607.9" y="381" font-size="14" text-anchor="start" fill="#111" font-weight="normal" font-style="normal" >Mk. V</text>
<line x1="626.6" y1="446" x2="626.6" y2="479.4" stroke="#c51f42" stroke-width="1.7" />
<line x1="632" y1="432" x2="632" y2="470" stroke="#c51f42" stroke-width="1.7" />
<line x1="637.4" y1="426" x2="637.4" y2="458" stroke="#c51f42" stroke-width="1.7" />
<line x1="641.8" y1="383" x2="641.8" y2="424" stroke="#c51f42" stroke-width="1.7" />
<line x1="647.3" y1="414" x2="647.3" y2="446" stroke="#c51f42" stroke-width="1.7" />
<line x1="652.4" y1="412" x2="652.4" y2="446" stroke="#c51f42" stroke-width="1.7" />
<line x1="657.9" y1="400" x2="657.9" y2="432" stroke="#c51f42" stroke-width="1.7" />
<line x1="662.8" y1="406" x2="662.8" y2="441" stroke="#c51f42" stroke-width="1.7" />
<line x1="668.2" y1="417" x2="668.2" y2="445" stroke="#c51f42" stroke-width="1.7" />
<line x1="673.4" y1="398" x2="673.4" y2="428" stroke="#c51f42" stroke-width="1.7" />
<circle cx="626.6" cy="461.4" r="2.5" fill="#c51f42"/>
<circle cx="632" cy="451.1" r="2.5" fill="#c51f42"/>
<circle cx="637.4" cy="442.5" r="2.5" fill="#c51f42"/>
<circle cx="641.8" cy="396.8" r="2.5" fill="#c51f42"/>
<circle cx="647.3" cy="430.1" r="2.5" fill="#c51f42"/>
<circle cx="652.4" cy="428.9" r="2.5" fill="#c51f42"/>
<circle cx="657.9" cy="416.1" r="2.5" fill="#c51f42"/>
<circle cx="662.8" cy="423.5" r="2.5" fill="#c51f42"/>
<circle cx="668.2" cy="432.1" r="2.5" fill="#c51f42"/>
<circle cx="673.4" cy="412.9" r="2.5" fill="#c51f42"/>
<line x1="626.6" y1="444.2" x2="673.4" y2="413.6" stroke="#c51f42" stroke-width="2.2" />
<line x1="600.4" y1="404.2" x2="600.4" y2="470.8" stroke="#8b0a28" stroke-width="1.7" />
<line x1="605.6" y1="427.7" x2="605.6" y2="470.8" stroke="#8b0a28" stroke-width="1.7" />
<line x1="611" y1="408" x2="611" y2="458.5" stroke="#8b0a28" stroke-width="1.7" />
<line x1="616" y1="408.4" x2="616" y2="462.2" stroke="#8b0a28" stroke-width="1.7" />
<line x1="621.4" y1="428.4" x2="621.4" y2="465.9" stroke="#8b0a28" stroke-width="1.7" />
<line x1="626.6" y1="417" x2="626.6" y2="447.4" stroke="#8b0a28" stroke-width="1.7" />
<line x1="631.8" y1="424" x2="631.8" y2="460" stroke="#8b0a28" stroke-width="1.7" />
<line x1="641.8" y1="400" x2="641.8" y2="448" stroke="#8b0a28" stroke-width="1.7" />
<line x1="647.3" y1="398" x2="647.3" y2="436" stroke="#8b0a28" stroke-width="1.7" />
<line x1="652.4" y1="383" x2="652.4" y2="417" stroke="#8b0a28" stroke-width="1.7" />
<line x1="657.9" y1="353.7" x2="657.9" y2="393" stroke="#8b0a28" stroke-width="1.7" />
<line x1="662.8" y1="355" x2="662.8" y2="418" stroke="#8b0a28" stroke-width="1.7" />
<line x1="668.2" y1="381" x2="668.2" y2="432" stroke="#8b0a28" stroke-width="1.7" />
<line x1="673.4" y1="349" x2="673.4" y2="391" stroke="#8b0a28" stroke-width="1.7" />
<circle cx="600.4" cy="437.5" r="2.5" fill="#8b0a28"/>
<circle cx="605.6" cy="448.1" r="2.5" fill="#8b0a28"/>
<circle cx="611" cy="432.6" r="2.5" fill="#8b0a28"/>
<circle cx="616" cy="435.8" r="2.5" fill="#8b0a28"/>
<circle cx="621.4" cy="447.4" r="2.5" fill="#8b0a28"/>
<circle cx="626.6" cy="431.9" r="2.5" fill="#8b0a28"/>
<circle cx="631.8" cy="442" r="2.5" fill="#8b0a28"/>
<circle cx="641.8" cy="424" r="2.5" fill="#8b0a28"/>
<circle cx="647.3" cy="417" r="2.5" fill="#8b0a28"/>
<circle cx="652.4" cy="400" r="2.5" fill="#8b0a28"/>
<circle cx="657.9" cy="373.4" r="2.5" fill="#8b0a28"/>
<circle cx="662.8" cy="386.5" r="2.5" fill="#8b0a28"/>
<circle cx="668.2" cy="406.7" r="2.5" fill="#8b0a28"/>
<circle cx="673.4" cy="371" r="2.5" fill="#8b0a28"/>
<line x1="600.4" y1="454.8" x2="673.4" y2="387" stroke="#8b0a28" stroke-width="2.2" />
<text x="506" y="522" font-size="14" text-anchor="start" fill="#333" font-weight="normal" font-style="normal" ></text>
<text x="506.5" y="518.5" font-size="14" text-anchor="middle" fill="#222">Bid (mL H<tspan font-size="10" dy="3">2</tspan><tspan dy="-3">O)</tspan></text>
</svg></body></html>
